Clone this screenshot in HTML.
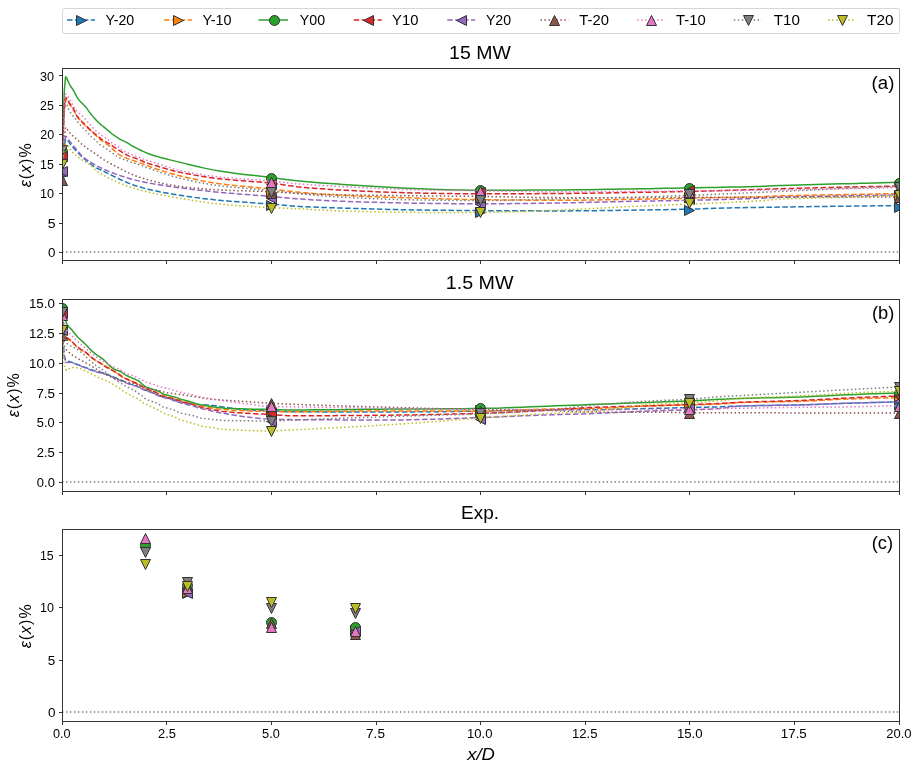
<!DOCTYPE html>
<html><head><meta charset="utf-8"><style>
html,body{margin:0;padding:0;background:#fff;width:919px;height:768px;overflow:hidden;}
svg{display:block;font-family:"Liberation Sans", sans-serif;will-change:transform;}
</style></head><body>
<svg width="919" height="768" viewBox="0 0 919 768" font-family='"Liberation Sans", sans-serif' fill="#000"><defs><clipPath id="clipa"><rect x="62.5" y="68.5" width="837.0" height="192.0"/></clipPath><clipPath id="clipb"><rect x="62.5" y="299.5" width="837.0" height="192.0"/></clipPath><clipPath id="clipc"><rect x="62.5" y="529.5" width="837.0" height="192.0"/></clipPath></defs><rect x="62.5" y="8.5" width="837" height="25" rx="2" ry="2" fill="#fff" stroke="#d6d6d6" stroke-width="1"/>
<line x1="67.0" y1="20.0" x2="95.0" y2="20.0" stroke="#1f77b4" stroke-width="1.5" stroke-linecap="butt" stroke-dasharray="5.55 2.4"/>
<polygon points="86.50,20.50 76.50,15.50 76.50,25.50" fill="#1f77b4" stroke="#333333" stroke-width="1" stroke-linejoin="miter"/>
<text x="105.47" y="25.10" font-size="14.2" text-anchor="start" textLength="28.73" lengthAdjust="spacingAndGlyphs">Y-20</text>
<line x1="163.9" y1="20.0" x2="191.9" y2="20.0" stroke="#ff7f0e" stroke-width="1.5" stroke-linecap="butt" stroke-dasharray="5.55 2.4"/>
<polygon points="183.50,20.50 173.50,15.50 173.50,25.50" fill="#ff7f0e" stroke="#333333" stroke-width="1" stroke-linejoin="miter"/>
<text x="202.46" y="25.10" font-size="14.2" text-anchor="start" textLength="29.09" lengthAdjust="spacingAndGlyphs">Y-10</text>
<line x1="259.2" y1="20.0" x2="287.2" y2="20.0" stroke="#2ca02c" stroke-width="1.5" stroke-linecap="square" />
<circle cx="274.50" cy="20.50" r="5.0" fill="#2ca02c" stroke="#333333" stroke-width="1"/>
<text x="299.81" y="25.10" font-size="14.2" text-anchor="start" textLength="25.25" lengthAdjust="spacingAndGlyphs">Y00</text>
<line x1="353.7" y1="20.0" x2="381.7" y2="20.0" stroke="#d62728" stroke-width="1.5" stroke-linecap="butt" stroke-dasharray="5.55 2.4"/>
<polygon points="363.50,20.50 373.50,15.50 373.50,25.50" fill="#d62728" stroke="#333333" stroke-width="1" stroke-linejoin="miter"/>
<text x="392.11" y="25.10" font-size="14.2" text-anchor="start" textLength="26.24" lengthAdjust="spacingAndGlyphs">Y10</text>
<line x1="447.2" y1="20.0" x2="475.2" y2="20.0" stroke="#9467bd" stroke-width="1.5" stroke-linecap="butt" stroke-dasharray="5.55 2.4"/>
<polygon points="456.50,20.50 466.50,15.50 466.50,25.50" fill="#9467bd" stroke="#333333" stroke-width="1" stroke-linejoin="miter"/>
<text x="485.89" y="25.10" font-size="14.2" text-anchor="start" textLength="25.19" lengthAdjust="spacingAndGlyphs">Y20</text>
<line x1="540.5" y1="20.0" x2="568.5" y2="20.0" stroke="#8c564b" stroke-width="1.5" stroke-linecap="butt" stroke-dasharray="1.5 2.475"/>
<polygon points="554.50,15.50 549.50,25.50 559.50,25.50" fill="#8c564b" stroke="#333333" stroke-width="1" stroke-linejoin="miter"/>
<text x="579.37" y="25.10" font-size="14.2" text-anchor="start" textLength="29.58" lengthAdjust="spacingAndGlyphs">T-20</text>
<line x1="637.2" y1="20.0" x2="665.2" y2="20.0" stroke="#e377c2" stroke-width="1.5" stroke-linecap="butt" stroke-dasharray="1.5 2.475"/>
<polygon points="651.50,15.50 646.50,25.50 656.50,25.50" fill="#e377c2" stroke="#333333" stroke-width="1" stroke-linejoin="miter"/>
<text x="676.10" y="25.10" font-size="14.2" text-anchor="start" textLength="29.64" lengthAdjust="spacingAndGlyphs">T-10</text>
<line x1="733.8" y1="20.0" x2="761.8" y2="20.0" stroke="#7f7f7f" stroke-width="1.5" stroke-linecap="butt" stroke-dasharray="1.5 2.475"/>
<polygon points="748.50,25.50 743.50,15.50 753.50,15.50" fill="#7f7f7f" stroke="#333333" stroke-width="1" stroke-linejoin="miter"/>
<text x="773.75" y="25.10" font-size="14.2" text-anchor="start" textLength="26.13" lengthAdjust="spacingAndGlyphs">T10</text>
<line x1="828.2" y1="20.0" x2="856.2" y2="20.0" stroke="#bcbd22" stroke-width="1.5" stroke-linecap="butt" stroke-dasharray="1.5 2.475"/>
<polygon points="842.50,25.50 837.50,15.50 847.50,15.50" fill="#bcbd22" stroke="#333333" stroke-width="1" stroke-linejoin="miter"/>
<text x="867.08" y="25.10" font-size="14.2" text-anchor="start" textLength="26.40" lengthAdjust="spacingAndGlyphs">T20</text>
<g clip-path="url(#clipa)">
<line x1="62.0" y1="252.1" x2="899.5" y2="252.1" stroke="#808080" stroke-width="1.5" stroke-dasharray="1.5 2.475"/>
<path d="M62.20,175.80 L64.29,146.18 L65.56,138.98 L66.39,139.23 L68.48,141.43 L70.57,144.48 L71.41,145.53 L72.66,146.95 L74.76,149.31 L76.60,151.31 L76.85,151.58 L78.94,153.76 L81.03,155.85 L83.12,157.81 L85.22,159.59 L87.31,161.26 L89.40,162.89 L89.61,163.06 L91.50,164.57 L93.59,166.18 L94.84,167.01 L95.68,167.49 L97.77,168.53 L99.45,169.31 L99.87,169.51 L101.96,170.52 L104.05,171.54 L106.14,172.58 L108.24,173.61 L110.33,174.65 L112.42,175.69 L114.51,176.72 L116.61,177.74 L118.70,178.75 L120.79,179.73 L122.88,180.69 L124.98,181.63 L127.07,182.53 L129.16,183.39 L131.25,184.21 L133.35,184.99 L135.44,185.72 L137.53,186.39 L139.62,187.01 L141.72,187.59 L143.81,188.14 L145.90,188.68 L147.99,189.19 L150.09,189.69 L152.18,190.17 L154.27,190.63 L156.36,191.08 L158.46,191.51 L160.55,191.93 L162.64,192.33 L164.73,192.73 L166.82,193.11 L168.92,193.48 L171.01,193.84 L173.10,194.19 L175.19,194.54 L177.29,194.87 L179.38,195.20 L179.80,195.27 L181.47,195.53 L183.57,195.85 L185.66,196.16 L187.75,196.47 L196.12,197.63 L204.49,198.68 L212.86,199.62 L219.56,200.28 L221.23,200.44 L229.60,201.15 L237.97,201.78 L246.34,202.36 L254.71,202.92 L263.08,203.49 L271.45,204.12 L271.45,204.12 L279.82,204.86 L288.19,205.64 L296.56,206.31 L299.49,206.48 L304.93,206.75 L313.30,207.10 L321.67,207.40 L330.04,207.66 L338.41,207.92 L339.67,207.95 L346.78,208.18 L355.15,208.44 L363.52,208.69 L371.89,208.94 L380.26,209.18 L388.63,209.40 L397.00,209.60 L405.37,209.78 L413.74,209.93 L419.60,210.02 L422.11,210.05 L430.48,210.16 L438.85,210.26 L447.22,210.35 L455.59,210.43 L463.96,210.50 L472.33,210.56 L480.70,210.61 L480.70,210.61 L489.07,210.66 L497.44,210.70 L505.81,210.74 L514.18,210.78 L522.55,210.82 L530.92,210.85 L539.29,210.88 L547.66,210.89 L556.03,210.90 L559.80,210.91 L564.40,210.90 L572.77,210.87 L581.14,210.81 L589.51,210.73 L597.88,210.63 L606.25,210.51 L614.62,210.39 L622.99,210.26 L631.36,210.14 L639.73,210.02 L639.73,210.02 L648.10,209.90 L656.47,209.77 L664.84,209.63 L673.21,209.48 L681.58,209.32 L689.95,209.13 L689.95,209.13 L698.32,208.91 L706.69,208.62 L715.06,208.33 L723.43,208.06 L729.71,207.90 L731.80,207.85 L740.17,207.68 L748.54,207.54 L756.91,207.40 L765.28,207.28 L773.65,207.16 L779.51,207.07 L782.02,207.03 L790.39,206.91 L798.76,206.79 L807.13,206.68 L815.50,206.56 L823.87,206.45 L832.24,206.34 L840.61,206.24 L848.98,206.14 L857.35,206.04 L859.86,206.01 L865.72,205.94 L874.09,205.85 L882.46,205.76 L890.83,205.68 L899.20,205.59" fill="none" stroke="#1f77b4" stroke-width="1.5" stroke-linejoin="round" stroke-linecap="butt" stroke-dasharray="5.55 2.4"/>
<polygon points="67.50,175.50 57.50,170.50 57.50,180.50" fill="#1f77b4" stroke="#333333" stroke-width="1" stroke-linejoin="miter"/>
<polygon points="276.50,205.50 266.50,200.50 266.50,210.50" fill="#1f77b4" stroke="#333333" stroke-width="1" stroke-linejoin="miter"/>
<polygon points="485.50,212.50 475.50,207.50 475.50,217.50" fill="#1f77b4" stroke="#333333" stroke-width="1" stroke-linejoin="miter"/>
<polygon points="694.50,210.50 684.50,205.50 684.50,215.50" fill="#1f77b4" stroke="#333333" stroke-width="1" stroke-linejoin="miter"/>
<polygon points="904.50,207.50 894.50,202.50 894.50,212.50" fill="#1f77b4" stroke="#333333" stroke-width="1" stroke-linejoin="miter"/>
<path d="M62.20,158.10 L64.29,110.13 L65.56,99.10 L66.39,99.52 L68.48,102.81 L69.48,104.41 L70.57,105.81 L72.66,108.54 L74.76,111.77 L76.85,115.27 L78.94,118.56 L79.99,119.99 L81.03,121.26 L83.12,123.56 L85.22,125.67 L87.02,127.42 L87.31,127.70 L89.40,129.65 L91.50,131.51 L93.59,133.36 L94.84,134.50 L95.68,135.29 L97.77,137.36 L99.87,139.34 L100.79,140.10 L101.96,140.97 L104.05,142.33 L106.14,143.66 L107.40,144.53 L108.24,145.17 L110.33,146.96 L112.42,148.90 L114.51,150.87 L116.61,152.71 L118.70,154.30 L119.99,155.09 L120.79,155.52 L122.88,156.55 L124.98,157.48 L127.07,158.33 L129.16,159.11 L131.25,159.85 L133.35,160.56 L135.44,161.26 L137.53,161.98 L139.62,162.74 L140.00,162.88 L141.72,163.53 L143.81,164.32 L145.90,165.12 L147.99,165.91 L150.09,166.70 L152.18,167.47 L154.27,168.22 L156.36,168.96 L158.46,169.66 L160.09,170.19 L160.55,170.34 L162.64,171.00 L164.73,171.65 L166.82,172.28 L168.92,172.90 L171.01,173.50 L173.10,174.08 L175.19,174.64 L177.29,175.18 L179.38,175.70 L179.80,175.80 L181.47,176.20 L183.57,176.70 L185.66,177.19 L187.75,177.67 L196.12,179.54 L204.49,181.25 L212.86,182.75 L219.56,183.76 L221.23,183.99 L229.60,185.01 L237.97,185.89 L246.34,186.68 L254.71,187.44 L263.08,188.22 L271.45,189.07 L271.45,189.08 L279.82,190.06 L288.19,191.09 L296.56,192.04 L299.49,192.32 L304.93,192.81 L313.30,193.51 L321.67,194.15 L330.04,194.72 L338.41,195.20 L339.67,195.27 L346.78,195.62 L355.15,196.00 L363.52,196.36 L371.89,196.68 L380.26,196.99 L388.63,197.27 L397.00,197.54 L405.37,197.80 L413.74,198.05 L419.60,198.22 L422.11,198.29 L430.48,198.54 L438.85,198.78 L447.22,199.01 L455.59,199.23 L463.96,199.42 L472.33,199.58 L480.70,199.69 L480.70,199.69 L489.07,199.79 L497.44,199.88 L505.81,199.97 L514.18,200.05 L522.55,200.12 L530.92,200.18 L539.29,200.23 L547.66,200.27 L556.03,200.28 L559.80,200.28 L564.40,200.28 L572.77,200.24 L581.14,200.17 L589.51,200.07 L597.88,199.95 L606.25,199.81 L614.62,199.66 L622.99,199.51 L631.36,199.36 L639.73,199.22 L639.73,199.22 L648.10,199.08 L656.47,198.92 L664.84,198.75 L673.21,198.57 L681.58,198.39 L689.95,198.22 L689.95,198.22 L698.32,198.06 L706.69,197.90 L715.06,197.75 L723.43,197.59 L731.80,197.43 L740.17,197.25 L748.54,197.05 L756.91,196.82 L759.42,196.75 L765.28,196.51 L773.65,196.09 L779.51,195.86 L782.02,195.79 L790.39,195.57 L798.76,195.39 L807.13,195.22 L815.50,195.07 L823.87,194.94 L832.24,194.80 L840.61,194.67 L848.98,194.53 L857.35,194.38 L859.86,194.33 L865.72,194.21 L874.09,194.03 L882.46,193.86 L890.83,193.68 L899.20,193.50" fill="none" stroke="#ff7f0e" stroke-width="1.5" stroke-linejoin="round" stroke-linecap="butt" stroke-dasharray="5.55 2.4"/>
<polygon points="67.50,158.50 57.50,153.50 57.50,163.50" fill="#ff7f0e" stroke="#333333" stroke-width="1" stroke-linejoin="miter"/>
<polygon points="276.50,192.50 266.50,187.50 266.50,197.50" fill="#ff7f0e" stroke="#333333" stroke-width="1" stroke-linejoin="miter"/>
<polygon points="485.50,199.50 475.50,194.50 475.50,204.50" fill="#ff7f0e" stroke="#333333" stroke-width="1" stroke-linejoin="miter"/>
<polygon points="694.50,197.50 684.50,192.50 684.50,202.50" fill="#ff7f0e" stroke="#333333" stroke-width="1" stroke-linejoin="miter"/>
<polygon points="904.50,195.50 894.50,190.50 894.50,200.50" fill="#ff7f0e" stroke="#333333" stroke-width="1" stroke-linejoin="miter"/>
<path d="M62.20,151.02 L64.29,90.70 L65.56,76.86 L66.39,77.47 L68.48,82.12 L69.48,84.29 L70.57,86.08 L72.66,89.28 L74.00,91.43 L74.76,92.79 L76.85,96.85 L77.94,98.63 L78.94,99.94 L81.03,102.24 L83.12,104.28 L85.22,106.47 L85.72,107.06 L87.31,109.17 L89.40,112.16 L90.95,114.20 L91.50,114.86 L93.59,117.30 L95.68,119.60 L97.77,121.73 L98.78,122.70 L99.87,123.69 L101.96,125.46 L104.05,127.14 L106.14,128.84 L106.56,129.19 L108.24,130.67 L110.33,132.54 L111.79,133.73 L112.42,134.21 L114.51,135.73 L116.61,137.14 L118.70,138.45 L119.62,138.98 L120.79,139.62 L122.88,140.65 L124.98,141.64 L127.07,142.69 L127.40,142.88 L129.16,143.94 L131.25,145.30 L132.63,146.12 L133.35,146.52 L135.44,147.64 L137.53,148.70 L139.62,149.72 L141.72,150.70 L143.05,151.31 L143.81,151.66 L145.90,152.59 L147.99,153.47 L150.09,154.29 L150.84,154.56 L152.18,155.01 L154.27,155.67 L156.36,156.28 L158.46,156.87 L159.71,157.22 L160.55,157.44 L162.64,158.01 L164.73,158.55 L166.82,159.09 L168.92,159.61 L171.01,160.13 L173.10,160.63 L175.19,161.14 L177.29,161.63 L179.38,162.13 L179.80,162.23 L181.47,162.63 L183.57,163.13 L185.66,163.64 L187.75,164.15 L196.12,166.18 L204.49,168.13 L212.86,169.88 L219.56,171.08 L221.23,171.35 L229.60,172.58 L237.97,173.66 L246.34,174.66 L254.71,175.61 L263.08,176.56 L271.45,177.57 L271.45,177.57 L279.82,178.68 L288.19,179.80 L296.56,180.81 L299.49,181.11 L304.93,181.61 L313.30,182.32 L321.67,182.95 L330.04,183.53 L338.41,184.09 L339.67,184.18 L346.78,184.66 L355.15,185.22 L363.52,185.78 L371.89,186.33 L380.26,186.85 L388.63,187.34 L397.00,187.80 L405.37,188.21 L413.74,188.57 L419.60,188.78 L422.11,188.86 L430.48,189.15 L438.85,189.43 L447.22,189.69 L455.59,189.92 L463.96,190.09 L472.33,190.21 L480.70,190.25 L480.70,190.25 L489.07,190.25 L497.44,190.24 L505.81,190.22 L514.18,190.19 L522.55,190.16 L530.92,190.12 L539.29,190.08 L547.66,190.03 L556.03,189.98 L559.80,189.96 L564.40,189.93 L572.77,189.85 L581.14,189.75 L589.51,189.63 L597.88,189.50 L606.25,189.36 L614.62,189.22 L622.99,189.07 L631.36,188.92 L639.73,188.78 L639.73,188.78 L648.10,188.64 L656.47,188.50 L664.84,188.36 L673.21,188.21 L681.58,188.05 L689.95,187.89 L689.95,187.89 L698.32,187.74 L706.69,187.59 L715.06,187.44 L723.43,187.28 L731.80,187.11 L740.17,186.93 L748.54,186.73 L756.91,186.50 L759.42,186.42 L765.28,186.19 L773.65,185.78 L779.51,185.53 L782.02,185.45 L790.39,185.17 L798.76,184.92 L807.13,184.69 L815.50,184.47 L823.87,184.26 L832.24,184.05 L840.61,183.85 L848.98,183.64 L857.35,183.42 L859.86,183.35 L865.72,183.19 L874.09,182.97 L882.46,182.74 L890.83,182.52 L899.20,182.29" fill="none" stroke="#2ca02c" stroke-width="1.5" stroke-linejoin="round" stroke-linecap="square" />
<circle cx="62.50" cy="151.50" r="5.0" fill="#2ca02c" stroke="#333333" stroke-width="1"/>
<circle cx="271.50" cy="178.50" r="5.0" fill="#2ca02c" stroke="#333333" stroke-width="1"/>
<circle cx="480.50" cy="190.50" r="5.0" fill="#2ca02c" stroke="#333333" stroke-width="1"/>
<circle cx="689.50" cy="188.50" r="5.0" fill="#2ca02c" stroke="#333333" stroke-width="1"/>
<circle cx="899.50" cy="183.50" r="5.0" fill="#2ca02c" stroke="#333333" stroke-width="1"/>
<path d="M62.20,156.33 L64.29,108.34 L65.56,97.33 L66.39,97.82 L68.48,101.52 L69.48,103.23 L70.57,104.55 L72.66,107.12 L74.76,111.53 L76.85,116.15 L77.27,116.80 L78.94,118.79 L81.03,120.79 L81.79,121.52 L83.12,122.84 L85.22,124.86 L87.02,126.59 L87.31,126.88 L89.40,129.00 L90.95,130.49 L91.50,130.97 L93.59,132.71 L94.84,133.73 L95.68,134.43 L97.77,136.17 L98.78,136.98 L99.87,137.86 L101.96,139.55 L104.01,140.99 L104.05,141.02 L106.14,142.09 L108.24,143.07 L109.07,143.53 L110.33,144.35 L112.42,145.94 L114.51,147.48 L116.61,148.82 L118.70,150.08 L120.79,151.31 L120.79,151.31 L122.88,152.60 L124.98,153.90 L127.07,155.10 L128.74,155.92 L129.16,156.10 L131.25,156.88 L133.35,157.56 L135.44,158.22 L137.53,158.94 L137.95,159.10 L139.62,159.81 L141.72,160.77 L143.81,161.73 L145.48,162.41 L145.90,162.56 L147.99,163.29 L150.09,163.96 L152.18,164.60 L154.27,165.22 L155.94,165.71 L156.36,165.84 L158.46,166.46 L160.55,167.09 L162.64,167.71 L164.73,168.33 L166.82,168.95 L168.92,169.54 L171.01,170.12 L173.10,170.68 L175.19,171.21 L177.29,171.71 L179.38,172.17 L179.80,172.26 L181.47,172.61 L183.57,173.03 L185.66,173.45 L187.75,173.85 L196.12,175.38 L204.49,176.74 L212.86,177.93 L219.56,178.75 L221.23,178.94 L229.60,179.76 L237.97,180.44 L246.34,181.06 L254.71,181.68 L263.08,182.36 L271.45,183.18 L271.45,183.18 L279.82,184.27 L288.19,185.54 L296.56,186.69 L299.49,187.01 L304.93,187.52 L313.30,188.23 L321.67,188.86 L330.04,189.41 L338.41,189.89 L339.67,189.96 L346.78,190.33 L355.15,190.76 L363.52,191.16 L371.89,191.55 L380.26,191.90 L388.63,192.23 L397.00,192.52 L405.37,192.77 L413.74,192.97 L419.60,193.09 L422.11,193.13 L430.48,193.27 L438.85,193.41 L447.22,193.54 L455.59,193.64 L463.96,193.72 L472.33,193.78 L480.70,193.80 L480.70,193.80 L489.07,193.79 L497.44,193.78 L505.81,193.76 L514.18,193.73 L522.55,193.70 L530.92,193.66 L539.29,193.62 L547.66,193.57 L556.03,193.52 L559.80,193.50 L564.40,193.47 L572.77,193.39 L581.14,193.29 L589.51,193.17 L597.88,193.04 L606.25,192.90 L614.62,192.76 L622.99,192.61 L631.36,192.46 L639.73,192.32 L639.73,192.32 L648.10,192.19 L656.47,192.05 L664.84,191.91 L673.21,191.77 L681.58,191.61 L689.95,191.44 L689.95,191.44 L698.32,191.23 L706.69,191.01 L715.06,190.76 L723.43,190.51 L731.80,190.25 L731.80,190.25 L740.17,190.00 L748.54,189.74 L756.91,189.47 L765.28,189.20 L773.65,188.95 L779.51,188.78 L782.02,188.71 L790.39,188.48 L798.76,188.25 L807.13,188.02 L815.50,187.80 L823.87,187.59 L832.24,187.38 L840.61,187.18 L848.98,187.00 L857.35,186.82 L859.86,186.77 L865.72,186.66 L874.09,186.51 L882.46,186.37 L890.83,186.24 L899.20,186.12" fill="none" stroke="#d62728" stroke-width="1.5" stroke-linejoin="round" stroke-linecap="butt" stroke-dasharray="5.55 2.4"/>
<polygon points="57.50,156.50 67.50,151.50 67.50,161.50" fill="#d62728" stroke="#333333" stroke-width="1" stroke-linejoin="miter"/>
<polygon points="266.50,184.50 276.50,179.50 276.50,189.50" fill="#d62728" stroke="#333333" stroke-width="1" stroke-linejoin="miter"/>
<polygon points="475.50,192.50 485.50,187.50 485.50,197.50" fill="#d62728" stroke="#333333" stroke-width="1" stroke-linejoin="miter"/>
<polygon points="684.50,190.50 694.50,185.50 694.50,195.50" fill="#d62728" stroke="#333333" stroke-width="1" stroke-linejoin="miter"/>
<polygon points="894.50,186.50 904.50,181.50 904.50,191.50" fill="#d62728" stroke="#333333" stroke-width="1" stroke-linejoin="miter"/>
<path d="M62.20,171.67 L64.29,142.93 L65.56,136.39 L66.39,136.75 L68.48,139.57 L69.48,140.99 L70.57,142.31 L72.66,144.90 L74.76,147.51 L76.85,150.07 L77.89,151.31 L78.94,152.57 L81.03,155.03 L82.50,156.51 L83.12,157.04 L85.22,158.60 L87.02,159.81 L87.31,160.01 L89.40,161.33 L91.50,162.59 L92.25,163.06 L93.59,163.92 L95.68,165.29 L97.48,166.30 L97.77,166.44 L99.87,167.44 L101.96,168.40 L104.05,169.34 L106.14,170.25 L108.24,171.13 L110.33,171.98 L112.42,172.81 L114.51,173.60 L116.61,174.37 L118.70,175.12 L120.79,175.84 L122.88,176.53 L124.98,177.19 L127.07,177.83 L129.16,178.44 L131.25,179.03 L133.35,179.58 L135.44,180.12 L137.53,180.63 L139.62,181.11 L141.72,181.57 L143.81,182.01 L145.90,182.44 L147.99,182.85 L150.09,183.24 L152.18,183.63 L154.27,183.99 L156.36,184.35 L158.46,184.69 L160.55,185.03 L162.64,185.35 L164.73,185.67 L166.82,185.97 L168.92,186.28 L171.01,186.57 L173.10,186.86 L175.19,187.15 L177.29,187.44 L179.38,187.72 L179.80,187.78 L181.47,188.00 L183.57,188.28 L185.66,188.55 L187.75,188.82 L196.12,189.84 L204.49,190.79 L212.86,191.67 L219.56,192.32 L221.23,192.48 L229.60,193.21 L237.97,193.88 L246.34,194.51 L254.71,195.13 L263.08,195.77 L271.45,196.45 L271.45,196.45 L279.82,197.22 L288.19,198.04 L296.56,198.77 L299.49,198.99 L304.93,199.35 L313.30,199.88 L321.67,200.36 L330.04,200.77 L338.41,201.12 L339.67,201.17 L346.78,201.42 L355.15,201.71 L363.52,201.97 L371.89,202.22 L380.26,202.45 L388.63,202.65 L397.00,202.84 L405.37,203.01 L413.74,203.15 L419.60,203.24 L422.11,203.27 L430.48,203.39 L438.85,203.50 L447.22,203.60 L455.59,203.69 L463.96,203.76 L472.33,203.81 L480.70,203.82 L480.70,203.82 L489.07,203.81 L497.44,203.76 L505.81,203.69 L514.18,203.60 L522.55,203.50 L530.92,203.38 L539.29,203.25 L547.66,203.13 L556.03,203.00 L559.80,202.94 L564.40,202.87 L572.77,202.71 L581.14,202.54 L589.51,202.35 L597.88,202.15 L606.25,201.94 L614.62,201.73 L622.99,201.53 L631.36,201.34 L639.73,201.17 L639.73,201.17 L648.10,201.02 L656.47,200.88 L664.84,200.74 L673.21,200.60 L681.58,200.45 L689.95,200.28 L689.95,200.28 L698.32,200.10 L706.69,199.90 L715.06,199.69 L723.43,199.46 L731.80,199.22 L740.17,198.96 L748.54,198.68 L756.91,198.37 L759.42,198.28 L765.28,198.00 L773.65,197.53 L779.51,197.28 L782.02,197.20 L790.39,196.96 L798.76,196.75 L807.13,196.56 L815.50,196.39 L823.87,196.24 L832.24,196.09 L840.61,195.95 L848.98,195.81 L857.35,195.67 L859.86,195.62 L865.72,195.52 L874.09,195.38 L882.46,195.24 L890.83,195.10 L899.20,194.97" fill="none" stroke="#9467bd" stroke-width="1.5" stroke-linejoin="round" stroke-linecap="butt" stroke-dasharray="5.55 2.4"/>
<polygon points="57.50,171.50 67.50,166.50 67.50,176.50" fill="#9467bd" stroke="#333333" stroke-width="1" stroke-linejoin="miter"/>
<polygon points="266.50,198.50 276.50,193.50 276.50,203.50" fill="#9467bd" stroke="#333333" stroke-width="1" stroke-linejoin="miter"/>
<polygon points="475.50,204.50 485.50,199.50 485.50,209.50" fill="#9467bd" stroke="#333333" stroke-width="1" stroke-linejoin="miter"/>
<polygon points="684.50,199.50 694.50,194.50 694.50,204.50" fill="#9467bd" stroke="#333333" stroke-width="1" stroke-linejoin="miter"/>
<polygon points="894.50,195.50 904.50,190.50 904.50,200.50" fill="#9467bd" stroke="#333333" stroke-width="1" stroke-linejoin="miter"/>
<path d="M62.20,180.52 L64.29,137.09 L65.56,127.42 L66.39,127.94 L68.48,131.34 L68.81,131.79 L70.57,133.69 L72.66,135.72 L73.37,136.39 L74.76,137.60 L76.85,139.35 L77.89,140.28 L78.94,141.32 L81.03,143.48 L81.79,144.18 L83.12,145.26 L85.22,146.79 L87.02,148.07 L87.31,148.28 L89.40,149.77 L91.50,151.23 L91.62,151.31 L93.59,152.62 L95.68,153.99 L97.48,155.21 L97.77,155.42 L99.87,157.01 L101.96,158.59 L102.71,159.10 L104.05,159.93 L106.14,161.10 L108.24,162.24 L108.53,162.41 L110.33,163.44 L112.42,164.64 L114.39,165.71 L114.51,165.78 L116.61,166.86 L118.70,167.95 L120.79,169.03 L122.88,170.10 L124.98,171.15 L127.07,172.17 L129.16,173.15 L131.25,174.09 L133.35,174.98 L135.44,175.82 L137.53,176.58 L139.62,177.27 L141.72,177.92 L143.81,178.55 L145.90,179.16 L147.99,179.76 L150.09,180.34 L152.18,180.90 L154.27,181.45 L156.36,181.97 L158.46,182.48 L160.55,182.96 L162.64,183.43 L164.73,183.88 L166.82,184.30 L168.92,184.70 L171.01,185.08 L173.10,185.44 L175.19,185.77 L177.29,186.08 L179.38,186.37 L179.80,186.42 L181.47,186.63 L183.57,186.89 L185.66,187.14 L187.75,187.38 L196.12,188.25 L204.49,188.98 L212.86,189.58 L219.56,189.96 L221.23,190.04 L229.60,190.39 L237.97,190.66 L246.34,190.90 L254.71,191.13 L263.08,191.39 L271.45,191.73 L271.45,191.73 L279.82,192.23 L288.19,192.83 L296.56,193.36 L299.49,193.50 L304.93,193.71 L313.30,194.00 L321.67,194.25 L330.04,194.47 L338.41,194.65 L339.67,194.68 L346.78,194.82 L355.15,194.97 L363.52,195.11 L371.89,195.25 L380.26,195.37 L388.63,195.48 L397.00,195.59 L405.37,195.69 L413.74,195.79 L419.60,195.86 L422.11,195.89 L430.48,195.98 L438.85,196.06 L447.22,196.13 L455.59,196.20 L463.96,196.28 L472.33,196.36 L480.70,196.45 L480.70,196.45 L489.07,196.56 L497.44,196.71 L505.81,196.87 L514.18,197.03 L522.55,197.20 L530.92,197.35 L539.29,197.48 L547.66,197.57 L556.03,197.62 L559.80,197.63 L564.40,197.63 L572.77,197.63 L581.14,197.63 L589.51,197.63 L597.88,197.63 L606.25,197.63 L614.62,197.63 L622.99,197.63 L631.36,197.63 L639.73,197.63 L639.73,197.63 L648.10,197.61 L656.47,197.56 L664.84,197.50 L673.21,197.43 L681.58,197.37 L689.95,197.34 L689.95,197.34 L698.32,197.31 L706.69,197.30 L715.06,197.28 L723.43,197.27 L731.80,197.26 L740.17,197.25 L748.54,197.24 L756.91,197.22 L759.42,197.22 L765.28,197.20 L773.65,197.18 L782.02,197.15 L790.39,197.12 L798.76,197.09 L807.13,197.05 L815.50,197.02 L823.87,196.99 L832.24,196.96 L840.61,196.94 L848.98,196.93 L857.35,196.92 L859.86,196.92 L865.72,196.92 L874.09,196.92 L882.46,196.92 L890.83,196.92 L899.20,196.92" fill="none" stroke="#8c564b" stroke-width="1.5" stroke-linejoin="round" stroke-linecap="butt" stroke-dasharray="1.5 2.475"/>
<polygon points="62.50,175.50 57.50,185.50 67.50,185.50" fill="#8c564b" stroke="#333333" stroke-width="1" stroke-linejoin="miter"/>
<polygon points="271.50,188.50 266.50,198.50 276.50,198.50" fill="#8c564b" stroke="#333333" stroke-width="1" stroke-linejoin="miter"/>
<polygon points="480.50,192.50 475.50,202.50 485.50,202.50" fill="#8c564b" stroke="#333333" stroke-width="1" stroke-linejoin="miter"/>
<polygon points="689.50,192.50 684.50,202.50 694.50,202.50" fill="#8c564b" stroke="#333333" stroke-width="1" stroke-linejoin="miter"/>
<polygon points="899.50,192.50 894.50,202.50 904.50,202.50" fill="#8c564b" stroke="#333333" stroke-width="1" stroke-linejoin="miter"/>
<path d="M62.20,169.90 L64.29,108.94 L65.56,94.03 L66.39,94.34 L68.48,97.23 L70.57,101.24 L71.41,102.64 L72.66,104.62 L74.76,108.06 L76.85,111.02 L77.27,111.49 L78.94,112.98 L81.03,114.60 L81.58,115.09 L83.12,116.68 L85.22,119.10 L87.31,121.62 L89.40,124.00 L91.50,126.22 L93.59,128.40 L95.68,130.47 L97.69,132.32 L97.77,132.39 L99.87,134.11 L100.79,134.80 L101.96,135.59 L104.05,136.93 L104.30,137.10 L106.14,138.36 L107.40,139.28 L108.24,139.95 L110.33,141.69 L110.49,141.82 L112.42,143.19 L113.68,144.00 L114.51,144.46 L116.61,145.51 L117.19,145.89 L118.70,147.37 L119.99,148.60 L120.79,149.13 L122.88,150.41 L124.98,151.56 L127.07,152.59 L129.16,153.52 L131.25,154.39 L133.35,155.20 L135.44,155.98 L137.53,156.75 L139.62,157.54 L140.00,157.69 L141.72,158.34 L143.81,159.11 L145.90,159.85 L147.99,160.56 L150.09,161.26 L152.18,161.94 L154.27,162.62 L156.36,163.28 L158.46,163.95 L160.09,164.47 L160.55,164.62 L162.64,165.31 L164.73,166.00 L166.82,166.70 L168.92,167.40 L171.01,168.07 L173.10,168.72 L175.19,169.33 L177.29,169.89 L179.38,170.40 L179.80,170.49 L181.47,170.85 L183.57,171.30 L185.66,171.73 L187.75,172.15 L196.12,173.69 L204.49,175.04 L212.86,176.19 L219.56,176.98 L221.23,177.16 L229.60,177.95 L237.97,178.62 L246.34,179.21 L254.71,179.79 L263.08,180.40 L271.45,181.11 L271.45,181.11 L279.82,181.99 L288.19,182.95 L296.56,183.82 L299.49,184.06 L304.93,184.46 L313.30,185.00 L321.67,185.48 L330.04,185.93 L338.41,186.36 L339.67,186.42 L346.78,186.79 L355.15,187.23 L363.52,187.67 L371.89,188.11 L380.26,188.52 L388.63,188.91 L397.00,189.26 L405.37,189.56 L413.74,189.82 L419.60,189.96 L422.11,190.01 L430.48,190.17 L438.85,190.31 L447.22,190.43 L455.59,190.54 L463.96,190.64 L472.33,190.74 L480.70,190.84 L480.70,190.84 L489.07,190.96 L497.44,191.08 L505.81,191.20 L514.18,191.33 L522.55,191.44 L530.92,191.55 L539.29,191.63 L547.66,191.69 L556.03,191.73 L559.80,191.73 L564.40,191.73 L572.77,191.71 L581.14,191.68 L589.51,191.65 L597.88,191.60 L606.25,191.55 L614.62,191.49 L622.99,191.43 L631.36,191.37 L639.73,191.32 L639.73,191.32 L648.10,191.26 L656.47,191.20 L664.84,191.14 L673.21,191.07 L681.58,191.00 L689.95,190.93 L698.32,190.85 L706.69,190.78 L715.06,190.69 L723.43,190.61 L729.71,190.55 L731.80,190.53 L740.17,190.44 L748.54,190.35 L756.91,190.25 L765.28,190.15 L773.65,190.04 L779.51,189.96 L782.02,189.92 L790.39,189.79 L798.76,189.65 L807.13,189.50 L815.50,189.33 L823.87,189.17 L832.24,188.99 L840.61,188.82 L848.98,188.65 L857.35,188.48 L859.86,188.43 L865.72,188.31 L874.09,188.13 L882.46,187.96 L890.83,187.78 L899.20,187.60" fill="none" stroke="#e377c2" stroke-width="1.5" stroke-linejoin="round" stroke-linecap="butt" stroke-dasharray="1.5 2.475"/>
<polygon points="271.50,177.50 266.50,187.50 276.50,187.50" fill="#e377c2" stroke="#333333" stroke-width="1" stroke-linejoin="miter"/>
<polygon points="480.50,186.50 475.50,196.50 485.50,196.50" fill="#e377c2" stroke="#333333" stroke-width="1" stroke-linejoin="miter"/>
<polygon points="689.50,187.50 684.50,197.50 694.50,197.50" fill="#e377c2" stroke="#333333" stroke-width="1" stroke-linejoin="miter"/>
<polygon points="899.50,183.50 894.50,193.50 904.50,193.50" fill="#e377c2" stroke="#333333" stroke-width="1" stroke-linejoin="miter"/>
<path d="M62.20,150.43 L64.29,110.69 L65.56,102.05 L66.39,103.00 L68.48,109.01 L68.81,109.72 L70.57,112.60 L72.66,115.46 L74.76,118.10 L75.30,118.81 L76.85,120.81 L78.94,123.41 L81.03,125.83 L83.12,127.95 L85.22,129.95 L86.81,131.55 L87.31,132.10 L89.40,134.65 L91.50,137.04 L92.00,137.51 L93.59,138.69 L94.80,139.57 L95.68,140.36 L97.77,142.50 L99.87,144.57 L100.79,145.30 L101.96,146.02 L104.05,147.15 L104.30,147.30 L106.14,148.49 L108.24,149.98 L110.33,151.54 L112.42,153.12 L114.51,154.65 L116.61,156.07 L118.70,157.32 L119.99,157.98 L120.79,158.35 L122.88,159.24 L124.98,160.06 L127.07,160.80 L129.16,161.50 L131.25,162.17 L133.35,162.82 L135.44,163.48 L137.53,164.16 L139.62,164.87 L140.00,165.00 L141.72,165.62 L143.81,166.40 L145.90,167.18 L147.99,167.97 L150.09,168.75 L152.18,169.53 L154.27,170.30 L156.36,171.05 L158.46,171.78 L160.09,172.32 L160.55,172.47 L162.64,173.15 L164.73,173.83 L166.82,174.49 L168.92,175.14 L171.01,175.78 L173.10,176.39 L175.19,176.97 L177.29,177.53 L179.38,178.06 L179.80,178.16 L181.47,178.56 L183.57,179.05 L185.66,179.54 L187.75,180.02 L196.12,181.84 L204.49,183.48 L212.86,184.89 L219.56,185.83 L221.23,186.04 L229.60,186.95 L237.97,187.72 L246.34,188.41 L254.71,189.07 L263.08,189.76 L271.45,190.55 L271.45,190.55 L279.82,191.48 L288.19,192.49 L296.56,193.44 L299.49,193.74 L304.93,194.26 L313.30,195.05 L321.67,195.78 L330.04,196.43 L338.41,196.97 L339.67,197.04 L346.78,197.41 L355.15,197.83 L363.52,198.22 L371.89,198.59 L380.26,198.92 L388.63,199.22 L397.00,199.49 L405.37,199.71 L413.74,199.89 L419.60,199.99 L422.11,200.03 L430.48,200.15 L438.85,200.26 L447.22,200.37 L455.59,200.45 L463.96,200.52 L472.33,200.56 L480.70,200.58 L480.70,200.58 L489.07,200.54 L497.44,200.44 L505.81,200.28 L514.18,200.08 L522.55,199.85 L530.92,199.60 L539.29,199.36 L547.66,199.12 L556.03,198.90 L559.80,198.81 L564.40,198.71 L572.77,198.53 L581.14,198.36 L589.51,198.19 L597.88,198.02 L606.25,197.84 L614.62,197.66 L622.99,197.47 L631.36,197.26 L639.73,197.04 L639.73,197.04 L648.10,196.79 L656.47,196.52 L664.84,196.22 L673.21,195.91 L681.58,195.59 L689.95,195.27 L689.95,195.27 L698.32,194.95 L706.69,194.62 L715.06,194.28 L723.43,193.93 L731.80,193.58 L740.17,193.22 L748.54,192.86 L756.91,192.49 L759.42,192.38 L765.28,192.11 L773.65,191.71 L779.51,191.44 L782.02,191.32 L790.39,190.93 L798.76,190.54 L807.13,190.15 L815.50,189.76 L823.87,189.38 L832.24,189.00 L840.61,188.63 L848.98,188.28 L857.35,187.94 L859.86,187.84 L865.72,187.61 L874.09,187.29 L882.46,186.99 L890.83,186.70 L899.20,186.42" fill="none" stroke="#7f7f7f" stroke-width="1.5" stroke-linejoin="round" stroke-linecap="butt" stroke-dasharray="1.5 2.475"/>
<polygon points="62.50,155.50 57.50,145.50 67.50,145.50" fill="#7f7f7f" stroke="#333333" stroke-width="1" stroke-linejoin="miter"/>
<polygon points="271.50,197.50 266.50,187.50 276.50,187.50" fill="#7f7f7f" stroke="#333333" stroke-width="1" stroke-linejoin="miter"/>
<polygon points="480.50,205.50 475.50,195.50 485.50,195.50" fill="#7f7f7f" stroke="#333333" stroke-width="1" stroke-linejoin="miter"/>
<polygon points="689.50,199.50 684.50,189.50 694.50,189.50" fill="#7f7f7f" stroke="#333333" stroke-width="1" stroke-linejoin="miter"/>
<polygon points="899.50,192.50 894.50,182.50 904.50,182.50" fill="#7f7f7f" stroke="#333333" stroke-width="1" stroke-linejoin="miter"/>
<path d="M62.20,164.59 L64.29,148.01 L65.56,143.94 L66.39,144.18 L68.48,146.45 L70.57,149.80 L72.66,152.61 L74.76,154.47 L76.85,156.09 L78.94,157.62 L79.19,157.81 L81.03,159.10 L83.12,160.50 L85.22,161.86 L87.02,163.06 L87.31,163.25 L89.40,164.63 L90.95,165.71 L91.50,166.13 L93.59,167.93 L95.68,169.86 L97.77,171.67 L99.45,172.85 L99.87,173.10 L101.96,174.34 L104.05,175.54 L106.14,176.69 L108.24,177.80 L110.33,178.86 L112.42,179.88 L114.51,180.87 L116.61,181.81 L118.70,182.72 L120.79,183.59 L122.88,184.42 L124.98,185.22 L127.07,185.99 L129.16,186.72 L131.25,187.43 L133.35,188.10 L135.44,188.75 L137.53,189.37 L139.62,189.96 L141.72,190.53 L143.81,191.07 L145.90,191.60 L147.99,192.10 L150.09,192.59 L152.18,193.06 L154.27,193.51 L156.36,193.95 L158.46,194.37 L160.55,194.78 L162.64,195.18 L164.73,195.57 L166.82,195.95 L168.92,196.33 L171.01,196.70 L173.10,197.06 L175.19,197.43 L177.29,197.79 L179.38,198.15 L179.80,198.22 L181.47,198.51 L183.57,198.87 L185.66,199.23 L187.75,199.59 L196.12,200.99 L204.49,202.28 L212.86,203.40 L219.56,204.12 L221.23,204.28 L229.60,205.01 L237.97,205.65 L246.34,206.23 L254.71,206.75 L263.08,207.22 L271.45,207.66 L271.45,207.66 L279.82,208.04 L288.19,208.37 L296.56,208.71 L299.49,208.84 L304.93,209.11 L313.30,209.59 L321.67,210.08 L330.04,210.53 L338.41,210.87 L339.67,210.91 L346.78,211.11 L355.15,211.34 L363.52,211.56 L371.89,211.76 L380.26,211.94 L388.63,212.10 L397.00,212.22 L405.37,212.32 L413.74,212.37 L419.60,212.38 L422.11,212.38 L430.48,212.38 L438.85,212.38 L447.22,212.38 L455.59,212.38 L463.96,212.38 L472.33,212.38 L480.70,212.38 L480.70,212.38 L489.07,212.34 L497.44,212.21 L505.81,212.02 L514.18,211.77 L522.55,211.48 L530.92,211.16 L539.29,210.83 L547.66,210.49 L556.03,210.16 L559.80,210.02 L564.40,209.84 L572.77,209.49 L581.14,209.09 L589.51,208.67 L597.88,208.24 L606.25,207.79 L614.62,207.35 L622.99,206.92 L631.36,206.51 L639.73,206.13 L639.73,206.13 L648.10,205.77 L656.47,205.44 L664.84,205.11 L673.21,204.79 L681.58,204.46 L689.95,204.12 L689.95,204.12 L698.32,203.76 L706.69,203.40 L715.06,203.02 L723.43,202.64 L729.71,202.35 L731.80,202.25 L740.17,201.87 L748.54,201.48 L756.91,201.03 L759.42,200.88 L765.28,200.41 L773.65,199.62 L779.51,199.22 L782.02,199.11 L790.39,198.77 L798.76,198.49 L807.13,198.25 L815.50,198.05 L823.87,197.86 L832.24,197.67 L840.61,197.48 L848.98,197.26 L857.35,197.01 L859.86,196.92 L865.72,196.71 L874.09,196.38 L882.46,196.03 L890.83,195.65 L899.20,195.27" fill="none" stroke="#bcbd22" stroke-width="1.5" stroke-linejoin="round" stroke-linecap="butt" stroke-dasharray="1.5 2.475"/>
<polygon points="62.50,169.50 57.50,159.50 67.50,159.50" fill="#bcbd22" stroke="#333333" stroke-width="1" stroke-linejoin="miter"/>
<polygon points="271.50,213.50 266.50,203.50 276.50,203.50" fill="#bcbd22" stroke="#333333" stroke-width="1" stroke-linejoin="miter"/>
<polygon points="480.50,217.50 475.50,207.50 485.50,207.50" fill="#bcbd22" stroke="#333333" stroke-width="1" stroke-linejoin="miter"/>
<polygon points="689.50,208.50 684.50,198.50 694.50,198.50" fill="#bcbd22" stroke="#333333" stroke-width="1" stroke-linejoin="miter"/>
<polygon points="899.50,200.50 894.50,190.50 904.50,190.50" fill="#bcbd22" stroke="#333333" stroke-width="1" stroke-linejoin="miter"/>
</g>
<g clip-path="url(#clipb)">
<line x1="62.0" y1="482.1" x2="899.5" y2="482.1" stroke="#808080" stroke-width="1.5" stroke-dasharray="1.5 2.475"/>
<path d="M62.20,339.30 L64.29,355.82 L65.55,360.19 L66.39,360.66 L68.48,361.30 L70.11,361.74 L70.57,361.90 L72.66,362.67 L74.76,363.45 L76.85,364.24 L78.44,364.84 L78.94,365.03 L81.03,365.81 L83.12,366.59 L85.22,367.37 L86.77,367.94 L87.31,368.15 L89.40,368.97 L91.50,369.80 L93.59,370.56 L95.09,371.05 L95.68,371.21 L97.77,371.73 L99.87,372.18 L101.96,372.66 L103.46,373.07 L104.05,373.26 L106.14,373.99 L108.24,374.83 L110.33,375.70 L111.79,376.30 L112.42,376.55 L114.51,377.40 L116.61,378.27 L118.70,379.15 L120.79,380.04 L121.79,380.47 L122.88,380.95 L124.98,381.92 L127.07,382.87 L129.12,383.69 L129.16,383.71 L131.25,384.38 L133.35,384.97 L135.44,385.58 L136.90,386.08 L137.53,386.33 L139.62,387.34 L141.72,388.45 L143.81,389.48 L144.23,389.66 L145.90,390.31 L147.99,391.04 L150.09,391.75 L151.88,392.41 L152.18,392.52 L154.27,393.41 L156.36,394.38 L158.46,395.32 L160.55,396.16 L161.80,396.58 L162.64,396.82 L164.73,397.31 L166.82,397.75 L168.92,398.26 L169.34,398.37 L171.01,398.93 L173.10,399.76 L175.19,400.57 L176.87,401.12 L177.29,401.23 L179.38,401.74 L181.47,402.20 L183.57,402.62 L184.40,402.79 L185.66,403.05 L187.75,403.52 L192.77,404.34 L196.12,404.54 L204.49,404.87 L205.75,404.94 L212.44,405.41 L212.86,405.45 L221.23,406.69 L225.42,407.32 L229.60,407.87 L237.97,408.92 L246.34,409.71 L246.34,409.71 L254.71,410.18 L263.08,410.55 L271.45,410.90 L271.45,410.90 L279.82,411.37 L288.19,411.72 L289.86,411.74 L296.56,411.77 L304.93,411.81 L313.30,411.85 L321.67,411.88 L330.04,411.90 L338.41,411.92 L346.78,411.94 L355.15,411.95 L363.52,411.96 L371.89,411.97 L380.26,411.97 L388.63,411.98 L389.89,411.98 L397.00,411.97 L405.37,411.94 L413.74,411.90 L422.11,411.83 L430.48,411.76 L438.85,411.67 L447.22,411.58 L455.59,411.47 L463.96,411.36 L472.33,411.25 L480.70,411.14 L480.70,411.14 L489.07,410.99 L497.44,410.79 L505.81,410.56 L514.18,410.31 L522.55,410.08 L530.92,409.89 L539.29,409.75 L544.73,409.71 L547.66,409.70 L556.03,409.67 L564.40,409.65 L572.77,409.64 L581.14,409.62 L589.51,409.59 L589.51,409.59 L597.88,409.53 L606.25,409.42 L614.62,409.28 L622.99,409.12 L631.36,408.93 L639.73,408.74 L648.10,408.54 L656.47,408.35 L659.82,408.28 L664.84,408.17 L673.21,407.97 L681.58,407.76 L689.95,407.56 L689.95,407.56 L698.32,407.37 L706.69,407.19 L715.06,406.98 L719.66,406.84 L723.43,406.71 L731.80,406.32 L739.75,406.01 L740.17,406.00 L748.54,405.80 L756.91,405.65 L765.28,405.52 L773.65,405.40 L782.02,405.27 L790.39,405.13 L798.76,404.96 L799.60,404.94 L807.13,404.72 L815.50,404.43 L823.87,404.10 L832.24,403.77 L840.61,403.45 L848.98,403.17 L849.82,403.15 L857.35,402.93 L865.72,402.71 L874.09,402.50 L882.46,402.30 L890.83,402.12 L899.20,401.95" fill="none" stroke="#1f77b4" stroke-width="1.5" stroke-linejoin="round" stroke-linecap="butt" stroke-dasharray="5.55 2.4"/>
<polygon points="67.50,339.50 57.50,334.50 57.50,344.50" fill="#1f77b4" stroke="#333333" stroke-width="1" stroke-linejoin="miter"/>
<polygon points="276.50,410.50 266.50,405.50 266.50,415.50" fill="#1f77b4" stroke="#333333" stroke-width="1" stroke-linejoin="miter"/>
<polygon points="485.50,411.50 475.50,406.50 475.50,416.50" fill="#1f77b4" stroke="#333333" stroke-width="1" stroke-linejoin="miter"/>
<polygon points="694.50,407.50 684.50,402.50 684.50,412.50" fill="#1f77b4" stroke="#333333" stroke-width="1" stroke-linejoin="miter"/>
<polygon points="904.50,404.50 894.50,399.50 894.50,409.50" fill="#1f77b4" stroke="#333333" stroke-width="1" stroke-linejoin="miter"/>
<path d="M62.20,315.44 L64.29,334.03 L64.92,336.32 L66.39,338.08 L68.48,339.42 L70.11,340.50 L70.57,340.90 L72.66,342.82 L74.76,344.76 L75.34,345.27 L76.85,346.56 L78.94,348.29 L80.53,349.45 L81.03,349.77 L83.12,350.92 L85.22,352.09 L85.72,352.43 L87.31,353.77 L89.40,355.82 L90.95,357.20 L91.50,357.62 L93.59,359.11 L95.68,360.47 L96.18,360.78 L97.77,361.74 L99.87,362.92 L101.37,363.77 L101.96,364.10 L104.05,365.27 L106.14,366.43 L108.24,367.61 L110.33,368.83 L111.79,369.73 L112.42,370.14 L114.51,371.62 L116.61,373.21 L118.70,374.80 L120.79,376.25 L122.72,377.37 L122.88,377.46 L124.98,378.41 L127.07,379.23 L129.16,380.04 L130.50,380.59 L131.25,380.92 L133.35,381.81 L135.44,382.75 L137.32,383.69 L137.53,383.81 L139.62,385.19 L141.72,386.69 L143.72,387.87 L143.81,387.91 L145.90,388.76 L147.99,389.46 L150.09,390.16 L151.01,390.50 L152.18,390.97 L154.27,391.90 L156.36,392.86 L158.46,393.80 L160.55,394.62 L161.38,394.91 L162.64,395.30 L164.73,395.86 L166.82,396.38 L168.50,396.82 L168.92,396.94 L171.01,397.53 L173.10,398.14 L175.19,398.73 L176.03,398.97 L177.29,399.31 L179.38,399.88 L181.47,400.44 L183.57,401.01 L184.82,401.36 L185.66,401.59 L187.75,402.22 L196.12,404.78 L199.05,405.53 L204.49,406.73 L212.86,408.26 L214.53,408.52 L221.23,409.35 L222.49,409.47 L229.60,410.02 L237.97,410.54 L246.34,410.90 L246.34,410.90 L254.71,411.15 L263.08,411.35 L271.45,411.50 L271.45,411.50 L279.82,411.64 L288.19,411.73 L289.86,411.74 L296.56,411.73 L304.93,411.69 L313.30,411.62 L321.67,411.54 L330.04,411.44 L338.41,411.34 L346.78,411.23 L355.15,411.13 L363.52,411.05 L371.89,410.97 L380.26,410.92 L388.63,410.90 L389.89,410.90 L397.00,410.91 L405.37,410.92 L413.74,410.94 L422.11,410.97 L430.48,411.00 L438.85,411.04 L447.22,411.07 L455.59,411.10 L463.96,411.12 L472.33,411.13 L480.70,411.14 L480.70,411.14 L489.07,411.06 L497.44,410.86 L505.81,410.56 L514.18,410.21 L522.55,409.85 L530.92,409.51 L539.29,409.24 L544.73,409.11 L547.66,409.06 L556.03,408.94 L564.40,408.85 L572.77,408.76 L581.14,408.65 L589.51,408.52 L589.51,408.52 L597.88,408.30 L606.25,408.00 L614.62,407.63 L622.99,407.22 L631.36,406.79 L639.73,406.37 L648.10,405.98 L656.47,405.65 L659.82,405.53 L664.84,405.38 L673.21,405.17 L681.58,404.99 L689.95,404.82 L698.32,404.64 L706.69,404.43 L715.06,404.16 L719.66,403.98 L723.43,403.77 L731.80,403.07 L739.75,402.55 L740.17,402.53 L748.54,402.29 L756.91,402.11 L765.28,401.97 L773.65,401.85 L782.02,401.73 L790.39,401.58 L798.76,401.38 L799.60,401.36 L807.13,401.09 L815.50,400.69 L823.87,400.23 L832.24,399.77 L840.61,399.34 L848.98,399.00 L849.82,398.97 L857.35,398.73 L865.72,398.49 L874.09,398.26 L882.46,398.07 L890.83,397.90 L899.20,397.78" fill="none" stroke="#ff7f0e" stroke-width="1.5" stroke-linejoin="round" stroke-linecap="butt" stroke-dasharray="5.55 2.4"/>
<polygon points="67.50,315.50 57.50,310.50 57.50,320.50" fill="#ff7f0e" stroke="#333333" stroke-width="1" stroke-linejoin="miter"/>
<polygon points="276.50,411.50 266.50,406.50 266.50,416.50" fill="#ff7f0e" stroke="#333333" stroke-width="1" stroke-linejoin="miter"/>
<polygon points="485.50,410.50 475.50,405.50 475.50,415.50" fill="#ff7f0e" stroke="#333333" stroke-width="1" stroke-linejoin="miter"/>
<polygon points="694.50,406.50 684.50,401.50 684.50,411.50" fill="#ff7f0e" stroke="#333333" stroke-width="1" stroke-linejoin="miter"/>
<polygon points="904.50,398.50 894.50,393.50 894.50,403.50" fill="#ff7f0e" stroke="#333333" stroke-width="1" stroke-linejoin="miter"/>
<path d="M62.20,307.08 L64.29,316.24 L66.39,322.93 L66.97,324.15 L68.48,326.40 L70.57,328.62 L72.20,330.35 L72.66,330.91 L74.76,333.55 L76.85,336.08 L77.39,336.68 L78.94,338.26 L81.03,340.21 L83.12,342.09 L85.22,344.05 L85.72,344.55 L87.31,346.26 L89.40,348.59 L90.95,350.16 L91.50,350.66 L93.59,352.44 L95.68,354.08 L96.18,354.46 L97.77,355.60 L99.87,356.99 L101.96,358.42 L103.46,359.59 L104.05,360.10 L106.14,362.24 L108.24,364.46 L109.70,365.80 L110.33,366.30 L112.42,367.91 L114.51,369.28 L115.94,369.97 L116.61,370.21 L118.70,370.74 L119.99,371.17 L120.79,371.60 L122.88,373.26 L124.10,374.15 L124.98,374.67 L127.07,375.79 L129.12,376.77 L129.16,376.79 L131.25,377.65 L133.35,378.44 L135.02,379.16 L135.44,379.36 L137.53,380.44 L139.12,381.43 L139.62,381.80 L141.72,383.70 L142.80,384.65 L143.81,385.45 L145.90,386.88 L145.98,386.92 L147.99,387.73 L150.09,388.40 L151.01,388.71 L152.18,389.13 L154.27,389.89 L154.98,390.14 L156.36,390.56 L158.46,391.23 L158.71,391.33 L160.55,392.42 L162.64,393.77 L163.06,393.96 L164.73,394.52 L166.82,395.07 L168.92,395.57 L169.59,395.75 L171.01,396.11 L173.10,396.62 L175.19,397.17 L176.03,397.42 L177.29,397.88 L179.38,398.77 L180.64,399.21 L181.47,399.43 L183.57,399.87 L184.82,400.16 L185.66,400.38 L187.75,400.99 L192.77,402.55 L196.12,403.65 L199.47,404.58 L204.49,405.37 L208.26,405.89 L212.86,406.68 L216.21,407.20 L221.23,407.83 L225.00,408.16 L229.60,408.41 L237.97,408.75 L242.16,408.87 L246.34,408.98 L254.71,409.15 L263.08,409.30 L271.45,409.47 L271.45,409.47 L279.82,409.73 L288.19,409.94 L289.86,409.95 L296.56,409.94 L304.93,409.91 L313.30,409.86 L321.67,409.80 L330.04,409.72 L338.41,409.64 L346.78,409.55 L355.15,409.45 L363.52,409.36 L371.89,409.27 L380.26,409.19 L388.63,409.12 L389.89,409.11 L397.00,409.06 L405.37,409.01 L413.74,408.97 L422.11,408.93 L430.48,408.89 L438.85,408.84 L447.22,408.80 L455.59,408.74 L463.96,408.68 L472.33,408.60 L480.70,408.52 L480.70,408.52 L489.07,408.37 L497.44,408.14 L505.81,407.85 L514.18,407.52 L522.55,407.16 L530.92,406.80 L539.29,406.46 L544.73,406.25 L547.66,406.14 L556.03,405.83 L564.40,405.52 L572.77,405.21 L581.14,404.89 L589.51,404.58 L589.51,404.58 L597.88,404.26 L606.25,403.95 L614.62,403.63 L622.99,403.32 L631.36,403.01 L639.73,402.69 L648.10,402.38 L656.47,402.07 L659.82,401.95 L664.84,401.78 L673.21,401.49 L681.58,401.20 L689.95,400.88 L689.95,400.88 L698.32,400.47 L706.69,400.01 L715.06,399.55 L719.66,399.33 L723.43,399.15 L731.80,398.79 L739.75,398.49 L740.17,398.48 L748.54,398.23 L756.91,398.01 L765.28,397.81 L773.65,397.63 L782.02,397.43 L790.39,397.22 L798.76,396.97 L799.60,396.94 L807.13,396.66 L815.50,396.29 L823.87,395.88 L832.24,395.47 L840.61,395.07 L848.98,394.71 L849.82,394.67 L857.35,394.39 L865.72,394.08 L874.09,393.79 L882.46,393.51 L890.83,393.25 L899.20,393.00" fill="none" stroke="#2ca02c" stroke-width="1.5" stroke-linejoin="round" stroke-linecap="square" />
<circle cx="62.50" cy="308.50" r="5.0" fill="#2ca02c" stroke="#333333" stroke-width="1"/>
<circle cx="271.50" cy="410.50" r="5.0" fill="#2ca02c" stroke="#333333" stroke-width="1"/>
<circle cx="480.50" cy="408.50" r="5.0" fill="#2ca02c" stroke="#333333" stroke-width="1"/>
<circle cx="689.50" cy="400.50" r="5.0" fill="#2ca02c" stroke="#333333" stroke-width="1"/>
<circle cx="899.50" cy="393.50" r="5.0" fill="#2ca02c" stroke="#333333" stroke-width="1"/>
<path d="M62.20,313.65 L64.29,333.22 L64.92,335.60 L66.39,337.36 L68.48,338.68 L70.11,339.78 L70.57,340.21 L72.66,342.34 L74.76,344.49 L75.34,345.03 L76.85,346.35 L78.94,348.05 L80.53,349.21 L81.03,349.54 L83.12,350.74 L85.22,351.97 L85.72,352.31 L87.31,353.63 L89.40,355.61 L90.95,356.96 L91.50,357.39 L93.59,358.92 L95.68,360.34 L96.18,360.66 L97.77,361.64 L99.87,362.85 L101.37,363.77 L101.96,364.15 L104.05,365.66 L106.14,367.09 L106.56,367.35 L108.24,368.23 L110.33,369.23 L111.79,369.97 L112.42,370.32 L114.51,371.54 L116.61,372.83 L118.70,374.16 L119.99,374.98 L120.79,375.50 L122.88,376.93 L124.56,377.97 L124.98,378.20 L127.07,379.26 L129.16,380.22 L131.25,381.16 L131.84,381.43 L133.35,382.09 L135.44,382.97 L137.53,383.88 L139.12,384.65 L139.62,384.92 L141.72,386.19 L143.81,387.51 L145.10,388.23 L145.90,388.62 L147.99,389.57 L150.09,390.40 L151.01,390.74 L152.18,391.09 L154.27,391.68 L154.98,391.93 L156.36,392.64 L158.46,394.11 L160.55,395.48 L161.38,395.87 L162.64,396.30 L164.73,396.87 L166.82,397.36 L168.50,397.78 L168.92,397.89 L171.01,398.44 L173.10,398.99 L175.19,399.57 L176.03,399.80 L177.29,400.18 L179.38,400.85 L181.47,401.53 L183.57,402.19 L184.82,402.55 L185.66,402.77 L187.75,403.27 L191.10,404.10 L196.12,405.80 L199.05,406.73 L204.49,407.99 L207.00,408.52 L212.86,409.75 L214.53,410.07 L221.23,411.22 L222.49,411.38 L229.60,412.10 L237.97,412.76 L246.34,413.29 L246.34,413.29 L254.71,413.71 L263.08,414.07 L271.45,414.48 L271.45,414.48 L279.82,415.19 L288.19,415.77 L289.86,415.79 L296.56,415.79 L304.93,415.78 L313.30,415.75 L321.67,415.72 L330.04,415.67 L338.41,415.62 L346.78,415.57 L355.15,415.50 L363.52,415.43 L371.89,415.36 L380.26,415.29 L388.63,415.21 L389.89,415.20 L397.00,415.12 L405.37,415.01 L413.74,414.89 L422.11,414.74 L430.48,414.57 L438.85,414.39 L447.22,414.19 L455.59,413.98 L463.96,413.76 L472.33,413.53 L480.70,413.29 L480.70,413.29 L489.07,413.02 L497.44,412.71 L505.81,412.36 L514.18,411.98 L522.55,411.57 L530.92,411.15 L539.29,410.71 L544.73,410.42 L547.66,410.26 L556.03,409.72 L564.40,409.12 L572.77,408.52 L581.14,407.98 L589.51,407.56 L589.51,407.56 L597.88,407.24 L606.25,406.97 L614.62,406.72 L622.99,406.50 L631.36,406.29 L639.73,406.08 L648.10,405.86 L656.47,405.63 L659.82,405.53 L664.84,405.38 L673.21,405.12 L681.58,404.85 L689.95,404.58 L689.95,404.58 L698.32,404.30 L706.69,404.02 L715.06,403.70 L719.66,403.50 L723.43,403.30 L731.80,402.76 L739.75,402.31 L740.17,402.29 L748.54,401.98 L756.91,401.72 L765.28,401.50 L773.65,401.29 L782.02,401.08 L790.39,400.84 L798.76,400.55 L799.60,400.52 L807.13,400.19 L815.50,399.77 L823.87,399.29 L832.24,398.81 L840.61,398.35 L848.98,397.93 L849.82,397.90 L857.35,397.57 L865.72,397.21 L874.09,396.88 L882.46,396.56 L890.83,396.26 L899.20,395.99" fill="none" stroke="#d62728" stroke-width="1.5" stroke-linejoin="round" stroke-linecap="butt" stroke-dasharray="5.55 2.4"/>
<polygon points="57.50,313.50 67.50,308.50 67.50,318.50" fill="#d62728" stroke="#333333" stroke-width="1" stroke-linejoin="miter"/>
<polygon points="266.50,413.50 276.50,408.50 276.50,418.50" fill="#d62728" stroke="#333333" stroke-width="1" stroke-linejoin="miter"/>
<polygon points="475.50,413.50 485.50,408.50 485.50,418.50" fill="#d62728" stroke="#333333" stroke-width="1" stroke-linejoin="miter"/>
<polygon points="684.50,403.50 694.50,398.50 694.50,408.50" fill="#d62728" stroke="#333333" stroke-width="1" stroke-linejoin="miter"/>
<polygon points="894.50,396.50 904.50,391.50 904.50,401.50" fill="#d62728" stroke="#333333" stroke-width="1" stroke-linejoin="miter"/>
<path d="M62.20,330.95 L64.29,356.53 L65.55,362.57 L66.39,362.55 L68.48,362.40 L70.11,362.33 L70.57,362.35 L72.66,362.81 L74.76,363.67 L76.85,364.65 L78.44,365.32 L78.94,365.50 L81.03,366.28 L83.12,367.06 L85.22,367.84 L86.77,368.42 L87.31,368.63 L89.40,369.45 L91.50,370.27 L93.59,371.04 L95.09,371.52 L95.68,371.69 L97.77,372.20 L99.87,372.66 L101.96,373.14 L103.46,373.55 L104.05,373.73 L106.14,374.47 L108.24,375.30 L110.33,376.17 L111.79,376.77 L112.42,377.03 L114.51,377.88 L116.61,378.75 L118.70,379.63 L120.79,380.52 L121.79,380.95 L122.88,381.43 L124.98,382.41 L127.07,383.36 L129.12,384.17 L129.16,384.19 L131.25,384.83 L133.35,385.38 L135.44,385.95 L136.90,386.44 L137.53,386.69 L139.62,387.68 L141.72,388.80 L143.81,389.84 L144.23,390.02 L145.90,390.66 L147.99,391.38 L150.09,392.09 L151.88,392.76 L152.18,392.89 L154.27,393.84 L156.36,394.80 L158.46,395.78 L160.55,396.64 L161.80,397.06 L162.64,397.29 L164.73,397.74 L166.82,398.14 L168.92,398.61 L169.34,398.73 L171.01,399.32 L173.10,400.25 L175.19,401.20 L176.87,401.83 L177.29,401.97 L179.38,402.58 L181.47,403.13 L183.57,403.65 L184.40,403.86 L185.66,404.17 L187.75,404.65 L192.77,405.89 L196.12,407.04 L199.47,408.16 L204.49,409.22 L207.42,409.83 L212.86,411.25 L215.37,411.86 L221.23,412.95 L222.49,413.17 L229.60,414.38 L237.97,415.73 L246.34,416.87 L246.34,416.87 L254.71,417.87 L263.08,418.74 L271.45,419.26 L271.45,419.26 L279.82,419.47 L288.19,419.60 L289.86,419.61 L296.56,419.66 L304.93,419.71 L313.30,419.76 L321.67,419.80 L330.04,419.84 L338.41,419.88 L346.78,419.90 L355.15,419.93 L363.52,419.95 L371.89,419.96 L380.26,419.97 L388.63,419.97 L389.89,419.97 L397.00,419.95 L405.37,419.86 L413.74,419.71 L422.11,419.52 L430.48,419.29 L438.85,419.03 L447.22,418.75 L455.59,418.46 L463.96,418.16 L472.33,417.87 L480.70,417.58 L480.70,417.58 L489.07,417.29 L497.44,416.95 L505.81,416.59 L514.18,416.22 L522.55,415.84 L530.92,415.48 L539.29,415.15 L544.73,414.96 L547.66,414.86 L556.03,414.61 L564.40,414.38 L572.77,414.15 L581.14,413.91 L589.51,413.65 L589.51,413.65 L597.88,413.33 L606.25,412.98 L614.62,412.59 L622.99,412.19 L631.36,411.80 L639.73,411.42 L648.10,411.07 L656.47,410.77 L659.82,410.66 L664.84,410.53 L673.21,410.35 L681.58,410.17 L689.95,409.95 L689.95,409.95 L698.32,409.65 L706.69,409.29 L715.06,408.82 L719.66,408.52 L723.43,408.13 L731.80,406.84 L739.75,406.01 L740.17,405.99 L748.54,405.74 L756.91,405.57 L765.28,405.44 L773.65,405.34 L782.02,405.24 L790.39,405.12 L798.76,404.96 L799.60,404.94 L807.13,404.72 L815.50,404.43 L823.87,404.10 L832.24,403.77 L840.61,403.45 L848.98,403.17 L849.82,403.15 L857.35,402.93 L865.72,402.71 L874.09,402.50 L882.46,402.30 L890.83,402.12 L899.20,401.95" fill="none" stroke="#9467bd" stroke-width="1.5" stroke-linejoin="round" stroke-linecap="butt" stroke-dasharray="5.55 2.4"/>
<polygon points="57.50,330.50 67.50,325.50 67.50,335.50" fill="#9467bd" stroke="#333333" stroke-width="1" stroke-linejoin="miter"/>
<polygon points="266.50,421.50 276.50,416.50 276.50,426.50" fill="#9467bd" stroke="#333333" stroke-width="1" stroke-linejoin="miter"/>
<polygon points="475.50,419.50 485.50,414.50 485.50,424.50" fill="#9467bd" stroke="#333333" stroke-width="1" stroke-linejoin="miter"/>
<polygon points="684.50,408.50 694.50,403.50 694.50,413.50" fill="#9467bd" stroke="#333333" stroke-width="1" stroke-linejoin="miter"/>
<polygon points="894.50,401.50 904.50,396.50 904.50,406.50" fill="#9467bd" stroke="#333333" stroke-width="1" stroke-linejoin="miter"/>
<path d="M62.20,338.11 L64.29,346.19 L64.92,347.66 L66.39,349.85 L68.48,352.01 L70.11,353.38 L70.57,353.77 L72.66,355.35 L74.76,356.73 L76.85,358.01 L76.89,358.04 L78.94,359.22 L81.03,360.33 L83.12,361.44 L83.67,361.74 L85.22,362.59 L87.31,363.74 L89.40,364.91 L90.95,365.80 L91.50,366.11 L93.59,367.40 L95.68,368.74 L97.77,370.06 L99.87,371.31 L101.37,372.12 L101.96,372.42 L104.05,373.49 L106.14,374.54 L108.24,375.57 L110.33,376.57 L112.42,377.53 L114.51,378.44 L116.61,379.28 L118.70,380.06 L120.79,380.74 L122.88,381.34 L123.22,381.43 L124.98,381.82 L127.07,382.20 L129.16,382.58 L130.50,382.86 L131.25,383.04 L133.35,383.58 L135.44,384.18 L137.53,384.82 L139.62,385.48 L141.72,386.14 L143.81,386.78 L145.48,387.27 L145.90,387.40 L147.99,388.07 L150.09,388.75 L152.18,389.30 L153.68,389.54 L154.27,389.59 L156.36,389.71 L157.20,389.78 L158.46,390.10 L160.55,391.01 L161.38,391.33 L162.64,391.73 L164.73,392.31 L165.15,392.41 L166.82,392.73 L168.92,393.06 L169.34,393.12 L171.01,393.33 L173.10,393.55 L175.19,393.76 L176.87,393.96 L177.29,394.01 L179.38,394.30 L181.47,394.62 L183.57,394.95 L184.82,395.15 L185.66,395.28 L187.75,395.61 L188.59,395.75 L196.12,396.99 L196.54,397.06 L204.49,398.37 L204.49,398.37 L212.86,399.28 L220.39,399.92 L221.23,399.99 L229.60,400.57 L237.97,401.08 L246.34,401.59 L246.34,401.59 L254.71,402.17 L263.08,402.75 L271.45,403.26 L271.45,403.26 L279.82,403.68 L288.19,404.03 L289.86,404.10 L296.56,404.36 L304.93,404.67 L313.30,404.97 L321.67,405.26 L330.04,405.54 L338.41,405.81 L346.78,406.08 L355.15,406.33 L363.52,406.58 L371.89,406.82 L380.26,407.06 L388.63,407.29 L389.89,407.32 L397.00,407.52 L405.37,407.74 L413.74,407.97 L422.11,408.18 L430.48,408.40 L438.85,408.60 L447.22,408.80 L455.59,408.99 L463.96,409.16 L472.33,409.32 L480.70,409.47 L480.70,409.47 L489.07,409.59 L497.44,409.70 L505.81,409.79 L514.18,409.87 L522.55,409.97 L530.92,410.07 L539.29,410.20 L544.73,410.31 L547.66,410.38 L556.03,410.71 L564.40,411.15 L572.77,411.59 L581.14,411.94 L589.51,412.10 L589.51,412.10 L597.88,412.12 L606.25,412.14 L614.62,412.15 L622.99,412.15 L631.36,412.16 L639.73,412.17 L648.10,412.18 L656.47,412.20 L659.82,412.21 L664.84,412.26 L673.21,412.43 L681.58,412.61 L689.95,412.69 L689.95,412.69 L698.32,412.69 L706.69,412.69 L715.06,412.69 L723.43,412.69 L731.80,412.69 L739.75,412.69 L740.17,412.69 L748.54,412.71 L756.91,412.74 L765.28,412.79 L773.65,412.83 L782.02,412.88 L790.39,412.92 L798.76,412.93 L799.60,412.93 L807.13,412.93 L815.50,412.93 L823.87,412.93 L832.24,412.93 L840.61,412.93 L848.98,412.93 L857.35,412.93 L865.72,412.93 L874.09,412.93 L882.46,412.93 L890.83,412.93 L899.20,412.93" fill="none" stroke="#8c564b" stroke-width="1.5" stroke-linejoin="round" stroke-linecap="butt" stroke-dasharray="1.5 2.475"/>
<polygon points="62.50,330.50 57.50,340.50 67.50,340.50" fill="#8c564b" stroke="#333333" stroke-width="1" stroke-linejoin="miter"/>
<polygon points="271.50,398.50 266.50,408.50 276.50,408.50" fill="#8c564b" stroke="#333333" stroke-width="1" stroke-linejoin="miter"/>
<polygon points="480.50,407.50 475.50,417.50 485.50,417.50" fill="#8c564b" stroke="#333333" stroke-width="1" stroke-linejoin="miter"/>
<polygon points="689.50,408.50 684.50,418.50 694.50,418.50" fill="#8c564b" stroke="#333333" stroke-width="1" stroke-linejoin="miter"/>
<polygon points="899.50,408.50 894.50,418.50 904.50,418.50" fill="#8c564b" stroke="#333333" stroke-width="1" stroke-linejoin="miter"/>
<path d="M62.20,319.02 L64.29,323.93 L66.39,328.24 L68.48,331.84 L69.61,333.46 L70.57,334.65 L72.66,336.81 L74.76,338.75 L75.34,339.30 L76.85,340.74 L78.94,342.69 L81.03,344.56 L81.58,345.03 L83.12,346.34 L85.22,348.05 L87.31,349.75 L87.81,350.16 L89.40,351.52 L91.50,353.34 L93.59,355.04 L94.09,355.41 L95.68,356.53 L97.77,357.93 L99.87,359.26 L101.96,360.53 L104.05,361.74 L106.14,362.92 L108.24,364.06 L109.70,364.84 L110.33,365.17 L112.42,366.19 L114.51,367.14 L116.61,368.08 L118.70,369.06 L120.79,370.13 L121.38,370.45 L122.88,371.42 L124.56,372.48 L124.98,372.70 L127.07,373.68 L128.20,374.15 L129.16,374.52 L131.25,375.25 L131.84,375.46 L133.35,375.99 L135.44,376.76 L135.48,376.77 L137.53,377.68 L139.12,378.44 L139.62,378.69 L141.72,379.79 L142.80,380.35 L143.81,380.88 L145.90,381.94 L146.40,382.14 L147.99,382.64 L150.09,383.22 L152.18,383.90 L153.68,384.41 L154.27,384.61 L156.36,385.36 L158.46,386.11 L160.55,386.79 L161.38,387.04 L162.64,387.36 L164.73,387.85 L166.82,388.31 L168.50,388.71 L168.92,388.81 L171.01,389.35 L173.10,389.92 L175.19,390.50 L176.45,390.85 L177.29,391.11 L179.38,391.82 L181.47,392.52 L183.57,393.05 L183.98,393.12 L185.66,393.32 L187.75,393.54 L188.17,393.60 L195.70,395.75 L196.12,395.86 L203.65,397.78 L204.49,397.93 L212.02,399.09 L212.86,399.21 L221.23,400.41 L222.90,400.64 L229.60,401.55 L237.97,402.67 L246.34,403.74 L246.34,403.74 L254.71,404.96 L263.08,406.14 L271.45,406.73 L271.45,406.73 L279.82,406.79 L288.19,406.83 L289.86,406.84 L296.56,406.91 L304.93,407.00 L313.30,407.12 L321.67,407.25 L330.04,407.39 L338.41,407.53 L346.78,407.68 L355.15,407.83 L363.52,407.98 L371.89,408.12 L380.26,408.26 L388.63,408.38 L389.89,408.40 L397.00,408.49 L405.37,408.61 L413.74,408.73 L422.11,408.84 L430.48,408.96 L438.85,409.07 L447.22,409.17 L455.59,409.26 L463.96,409.35 L472.33,409.42 L480.70,409.47 L480.70,409.47 L489.07,409.51 L497.44,409.55 L505.81,409.58 L514.18,409.60 L522.55,409.63 L530.92,409.66 L539.29,409.69 L544.73,409.71 L547.66,409.72 L556.03,409.77 L564.40,409.83 L572.77,409.89 L581.14,409.93 L589.51,409.95 L589.51,409.95 L597.88,409.92 L606.25,409.86 L614.62,409.77 L622.99,409.67 L631.36,409.56 L639.73,409.47 L648.10,409.39 L656.47,409.35 L659.82,409.35 L664.84,409.35 L673.21,409.35 L681.58,409.35 L689.95,409.35 L689.95,409.35 L698.32,409.22 L706.69,408.92 L715.06,408.62 L719.66,408.52 L723.43,408.46 L731.80,408.37 L739.75,408.28 L740.17,408.27 L748.54,408.15 L756.91,408.01 L765.28,407.87 L773.65,407.72 L782.02,407.58 L790.39,407.44 L798.76,407.33 L799.60,407.32 L807.13,407.24 L815.50,407.17 L823.87,407.10 L832.24,407.04 L840.61,406.96 L848.98,406.86 L849.82,406.84 L857.35,406.72 L865.72,406.54 L874.09,406.33 L882.46,406.09 L890.83,405.82 L899.20,405.53" fill="none" stroke="#e377c2" stroke-width="1.5" stroke-linejoin="round" stroke-linecap="butt" stroke-dasharray="1.5 2.475"/>
<polygon points="62.50,310.50 57.50,320.50 67.50,320.50" fill="#e377c2" stroke="#333333" stroke-width="1" stroke-linejoin="miter"/>
<polygon points="271.50,401.50 266.50,411.50 276.50,411.50" fill="#e377c2" stroke="#333333" stroke-width="1" stroke-linejoin="miter"/>
<polygon points="480.50,406.50 475.50,416.50 485.50,416.50" fill="#e377c2" stroke="#333333" stroke-width="1" stroke-linejoin="miter"/>
<polygon points="689.50,404.50 684.50,414.50 694.50,414.50" fill="#e377c2" stroke="#333333" stroke-width="1" stroke-linejoin="miter"/>
<polygon points="899.50,401.50 894.50,411.50 904.50,411.50" fill="#e377c2" stroke="#333333" stroke-width="1" stroke-linejoin="miter"/>
<path d="M62.20,311.86 L64.29,330.05 L66.39,342.10 L66.97,343.36 L68.48,344.76 L70.57,345.95 L72.66,346.81 L74.29,347.66 L74.76,347.95 L76.85,349.27 L78.94,350.65 L81.03,352.16 L82.58,353.38 L83.12,353.86 L85.22,355.99 L86.77,357.56 L87.31,358.07 L89.40,360.02 L91.50,361.90 L93.59,363.66 L95.09,364.84 L95.68,365.27 L97.77,366.69 L99.87,368.02 L101.37,369.02 L101.96,369.42 L104.05,370.90 L106.14,372.44 L108.24,374.02 L110.33,375.61 L112.42,377.21 L114.51,378.78 L116.61,380.32 L118.70,381.80 L120.79,383.20 L122.88,384.51 L124.56,385.48 L124.98,385.71 L127.07,386.72 L128.20,387.27 L129.16,387.80 L131.25,389.00 L131.38,389.06 L133.35,390.06 L135.02,390.97 L135.44,391.24 L137.53,392.77 L138.20,393.24 L139.62,394.09 L141.72,395.38 L141.88,395.51 L143.81,397.54 L144.60,398.25 L145.90,399.04 L147.78,399.92 L147.99,400.01 L150.09,400.79 L151.76,401.36 L152.18,401.49 L154.27,402.12 L155.53,402.55 L156.36,402.90 L158.46,403.97 L159.08,404.34 L160.55,405.45 L162.39,406.73 L162.64,406.83 L164.73,407.45 L166.11,407.80 L166.82,408.00 L168.92,408.57 L170.01,408.87 L171.01,409.15 L173.10,409.75 L173.69,409.95 L175.19,410.63 L177.29,411.68 L177.41,411.74 L179.38,412.51 L181.05,413.05 L181.47,413.16 L183.57,413.62 L184.82,413.89 L185.66,414.08 L187.75,414.57 L189.01,414.84 L192.77,415.56 L196.12,416.71 L200.31,418.06 L204.49,418.57 L207.84,418.90 L212.86,419.53 L215.79,419.85 L221.23,420.30 L224.16,420.45 L229.60,420.58 L237.97,420.71 L246.34,420.81 L246.34,420.81 L254.71,420.91 L263.08,421.01 L271.45,421.05 L271.45,421.05 L279.82,420.77 L288.19,420.29 L289.86,420.21 L296.56,419.94 L304.93,419.61 L313.30,419.29 L321.67,418.98 L330.04,418.67 L338.41,418.38 L346.78,418.08 L355.15,417.80 L363.52,417.51 L371.89,417.23 L380.26,416.95 L388.63,416.67 L389.89,416.63 L397.00,416.40 L405.37,416.14 L413.74,415.89 L422.11,415.65 L430.48,415.41 L438.85,415.17 L447.22,414.93 L455.59,414.67 L463.96,414.39 L472.33,414.09 L480.70,413.77 L480.70,413.77 L489.07,413.42 L497.44,413.05 L505.81,412.65 L514.18,412.22 L522.55,411.75 L530.92,411.25 L539.29,410.69 L544.73,410.31 L547.66,410.08 L556.03,409.27 L564.40,408.32 L572.77,407.32 L581.14,406.36 L589.51,405.53 L589.51,405.53 L597.88,404.82 L606.25,404.12 L614.62,403.45 L622.99,402.82 L631.36,402.22 L639.73,401.66 L648.10,401.15 L656.47,400.69 L659.82,400.52 L664.84,400.30 L673.21,400.00 L681.58,399.71 L689.95,399.33 L689.95,399.33 L698.32,398.69 L706.69,397.86 L715.06,397.05 L719.66,396.70 L723.43,396.47 L731.80,396.03 L739.75,395.63 L740.17,395.60 L748.54,395.15 L756.91,394.68 L765.28,394.21 L773.65,393.74 L782.02,393.27 L790.39,392.80 L798.76,392.33 L799.60,392.29 L807.13,391.87 L815.50,391.41 L823.87,390.94 L832.24,390.49 L840.61,390.03 L848.98,389.59 L849.82,389.54 L857.35,389.15 L865.72,388.71 L874.09,388.29 L882.46,387.86 L890.83,387.45 L899.20,387.04" fill="none" stroke="#7f7f7f" stroke-width="1.5" stroke-linejoin="round" stroke-linecap="butt" stroke-dasharray="1.5 2.475"/>
<polygon points="62.50,317.50 57.50,307.50 67.50,307.50" fill="#7f7f7f" stroke="#333333" stroke-width="1" stroke-linejoin="miter"/>
<polygon points="271.50,426.50 266.50,416.50 276.50,416.50" fill="#7f7f7f" stroke="#333333" stroke-width="1" stroke-linejoin="miter"/>
<polygon points="480.50,418.50 475.50,408.50 485.50,408.50" fill="#7f7f7f" stroke="#333333" stroke-width="1" stroke-linejoin="miter"/>
<polygon points="689.50,404.50 684.50,394.50 694.50,394.50" fill="#7f7f7f" stroke="#333333" stroke-width="1" stroke-linejoin="miter"/>
<polygon points="899.50,392.50 894.50,382.50 904.50,382.50" fill="#7f7f7f" stroke="#333333" stroke-width="1" stroke-linejoin="miter"/>
<path d="M62.20,329.76 L64.29,365.80 L66.39,370.45 L68.48,369.17 L69.61,368.42 L70.57,368.06 L72.66,367.46 L73.79,367.35 L74.76,367.41 L76.85,367.81 L77.89,368.06 L78.94,368.35 L81.03,369.09 L82.08,369.49 L83.12,369.91 L85.22,370.82 L85.72,371.05 L87.31,371.79 L89.40,372.82 L89.90,373.07 L91.50,373.88 L93.59,374.97 L94.09,375.22 L95.68,376.05 L97.77,377.14 L99.28,377.85 L99.87,378.10 L101.96,378.90 L104.05,379.70 L104.47,379.88 L106.14,380.64 L108.24,381.66 L110.33,382.75 L110.75,382.98 L112.42,383.91 L114.51,385.14 L116.61,386.42 L117.02,386.68 L118.70,387.73 L120.50,388.95 L120.79,389.17 L122.88,390.93 L123.59,391.45 L124.98,392.27 L127.07,393.35 L127.32,393.48 L129.16,394.39 L130.92,395.27 L131.25,395.45 L133.35,396.65 L134.10,397.06 L135.44,397.71 L137.53,398.71 L137.78,398.85 L139.62,400.02 L141.00,401.00 L141.72,401.57 L143.81,403.29 L144.18,403.50 L145.90,404.11 L147.28,404.58 L147.99,404.93 L150.09,406.24 L151.34,406.96 L152.18,407.35 L154.27,408.19 L155.02,408.52 L156.36,409.13 L158.45,410.19 L158.46,410.19 L160.55,411.56 L162.01,412.45 L162.64,412.75 L164.73,413.60 L165.49,413.89 L166.82,414.36 L168.92,415.05 L169.38,415.20 L171.01,415.65 L173.10,416.27 L173.10,416.27 L175.19,417.23 L176.79,418.06 L177.29,418.33 L179.38,419.48 L180.22,419.85 L181.47,420.27 L183.57,420.82 L183.98,420.93 L185.66,421.30 L187.75,421.76 L195.28,424.15 L196.12,424.41 L203.23,426.53 L204.49,426.73 L211.19,427.49 L212.86,427.77 L218.72,428.80 L221.23,429.04 L229.60,429.65 L237.97,430.07 L242.16,430.23 L246.34,430.38 L254.71,430.66 L263.08,430.87 L271.45,430.95 L271.45,430.95 L279.82,430.65 L288.19,430.09 L289.86,429.99 L296.56,429.65 L304.93,429.23 L313.30,428.81 L321.67,428.39 L330.04,427.98 L338.41,427.56 L346.78,427.14 L355.15,426.70 L363.52,426.26 L371.89,425.80 L380.26,425.32 L388.63,424.82 L389.89,424.74 L397.00,424.29 L405.37,423.73 L413.74,423.13 L422.11,422.52 L430.48,421.88 L438.85,421.24 L447.22,420.59 L455.59,419.94 L463.96,419.30 L472.33,418.67 L480.70,418.06 L480.70,418.06 L489.07,417.46 L497.44,416.84 L505.81,416.22 L514.18,415.61 L522.55,415.02 L530.92,414.47 L539.29,413.95 L544.73,413.65 L547.66,413.49 L556.03,413.12 L564.40,412.79 L572.77,412.46 L581.14,412.08 L589.51,411.62 L589.51,411.62 L597.88,410.94 L606.25,410.02 L614.62,408.94 L622.99,407.77 L631.36,406.60 L639.73,405.52 L648.10,404.60 L656.47,403.92 L659.82,403.74 L664.84,403.54 L673.21,403.30 L681.58,403.08 L689.95,402.79 L689.95,402.79 L698.32,402.35 L706.69,401.80 L715.06,401.15 L719.66,400.76 L723.43,400.37 L731.80,399.31 L739.75,398.49 L740.17,398.46 L748.54,397.96 L756.91,397.54 L765.28,397.20 L773.65,396.89 L782.02,396.59 L790.39,396.27 L798.76,395.91 L799.60,395.87 L807.13,395.48 L815.50,395.01 L823.87,394.52 L832.24,394.04 L840.61,393.58 L848.98,393.16 L849.82,393.12 L857.35,392.79 L865.72,392.43 L874.09,392.09 L882.46,391.78 L890.83,391.48 L899.20,391.21" fill="none" stroke="#bcbd22" stroke-width="1.5" stroke-linejoin="round" stroke-linecap="butt" stroke-dasharray="1.5 2.475"/>
<polygon points="62.50,335.50 57.50,325.50 67.50,325.50" fill="#bcbd22" stroke="#333333" stroke-width="1" stroke-linejoin="miter"/>
<polygon points="271.50,436.50 266.50,426.50 276.50,426.50" fill="#bcbd22" stroke="#333333" stroke-width="1" stroke-linejoin="miter"/>
<polygon points="480.50,423.50 475.50,413.50 485.50,413.50" fill="#bcbd22" stroke="#333333" stroke-width="1" stroke-linejoin="miter"/>
<polygon points="689.50,408.50 684.50,398.50 694.50,398.50" fill="#bcbd22" stroke="#333333" stroke-width="1" stroke-linejoin="miter"/>
<polygon points="899.50,396.50 894.50,386.50 904.50,386.50" fill="#bcbd22" stroke="#333333" stroke-width="1" stroke-linejoin="miter"/>
</g>
<g clip-path="url(#clipc)">
<line x1="62.0" y1="712.1" x2="899.5" y2="712.1" stroke="#808080" stroke-width="1.5" stroke-dasharray="1.5 2.475"/>
<polygon points="192.50,593.50 182.50,588.50 182.50,598.50" fill="#1f77b4" stroke="#333333" stroke-width="1" stroke-linejoin="miter"/>
<polygon points="360.50,630.50 350.50,625.50 350.50,635.50" fill="#1f77b4" stroke="#333333" stroke-width="1" stroke-linejoin="miter"/>
<polygon points="192.50,592.50 182.50,587.50 182.50,597.50" fill="#ff7f0e" stroke="#333333" stroke-width="1" stroke-linejoin="miter"/>
<circle cx="145.50" cy="545.50" r="5.0" fill="#2ca02c" stroke="#333333" stroke-width="1"/>
<circle cx="187.50" cy="585.50" r="5.0" fill="#2ca02c" stroke="#333333" stroke-width="1"/>
<circle cx="271.50" cy="622.50" r="5.0" fill="#2ca02c" stroke="#333333" stroke-width="1"/>
<circle cx="355.50" cy="627.50" r="5.0" fill="#2ca02c" stroke="#333333" stroke-width="1"/>
<polygon points="182.50,593.50 192.50,588.50 192.50,598.50" fill="#9467bd" stroke="#333333" stroke-width="1" stroke-linejoin="miter"/>
<polygon points="350.50,631.50 360.50,626.50 360.50,636.50" fill="#9467bd" stroke="#333333" stroke-width="1" stroke-linejoin="miter"/>
<polygon points="187.50,581.50 182.50,591.50 192.50,591.50" fill="#8c564b" stroke="#333333" stroke-width="1" stroke-linejoin="miter"/>
<polygon points="271.50,618.50 266.50,628.50 276.50,628.50" fill="#8c564b" stroke="#333333" stroke-width="1" stroke-linejoin="miter"/>
<polygon points="355.50,629.50 350.50,639.50 360.50,639.50" fill="#8c564b" stroke="#333333" stroke-width="1" stroke-linejoin="miter"/>
<polygon points="145.50,533.50 140.50,543.50 150.50,543.50" fill="#e377c2" stroke="#333333" stroke-width="1" stroke-linejoin="miter"/>
<polygon points="187.50,583.50 182.50,593.50 192.50,593.50" fill="#e377c2" stroke="#333333" stroke-width="1" stroke-linejoin="miter"/>
<polygon points="271.50,622.50 266.50,632.50 276.50,632.50" fill="#e377c2" stroke="#333333" stroke-width="1" stroke-linejoin="miter"/>
<polygon points="355.50,626.50 350.50,636.50 360.50,636.50" fill="#e377c2" stroke="#333333" stroke-width="1" stroke-linejoin="miter"/>
<polygon points="145.50,557.50 140.50,547.50 150.50,547.50" fill="#7f7f7f" stroke="#333333" stroke-width="1" stroke-linejoin="miter"/>
<polygon points="187.50,587.50 182.50,577.50 192.50,577.50" fill="#7f7f7f" stroke="#333333" stroke-width="1" stroke-linejoin="miter"/>
<polygon points="271.50,613.50 266.50,603.50 276.50,603.50" fill="#7f7f7f" stroke="#333333" stroke-width="1" stroke-linejoin="miter"/>
<polygon points="355.50,618.50 350.50,608.50 360.50,608.50" fill="#7f7f7f" stroke="#333333" stroke-width="1" stroke-linejoin="miter"/>
<polygon points="145.50,569.50 140.50,559.50 150.50,559.50" fill="#bcbd22" stroke="#333333" stroke-width="1" stroke-linejoin="miter"/>
<polygon points="187.50,591.50 182.50,581.50 192.50,581.50" fill="#bcbd22" stroke="#333333" stroke-width="1" stroke-linejoin="miter"/>
<polygon points="271.50,607.50 266.50,597.50 276.50,597.50" fill="#bcbd22" stroke="#333333" stroke-width="1" stroke-linejoin="miter"/>
<polygon points="355.50,613.50 350.50,603.50 360.50,603.50" fill="#bcbd22" stroke="#333333" stroke-width="1" stroke-linejoin="miter"/>
</g>
<rect x="62.5" y="68.5" width="837.0" height="192.0" fill="none" stroke="#333333" stroke-width="1"/>
<line x1="62.5" y1="260.5" x2="62.5" y2="264.0" stroke="#333333" stroke-width="1"/>
<line x1="166.5" y1="260.5" x2="166.5" y2="264.0" stroke="#333333" stroke-width="1"/>
<line x1="271.5" y1="260.5" x2="271.5" y2="264.0" stroke="#333333" stroke-width="1"/>
<line x1="376.5" y1="260.5" x2="376.5" y2="264.0" stroke="#333333" stroke-width="1"/>
<line x1="480.5" y1="260.5" x2="480.5" y2="264.0" stroke="#333333" stroke-width="1"/>
<line x1="585.5" y1="260.5" x2="585.5" y2="264.0" stroke="#333333" stroke-width="1"/>
<line x1="689.5" y1="260.5" x2="689.5" y2="264.0" stroke="#333333" stroke-width="1"/>
<line x1="794.5" y1="260.5" x2="794.5" y2="264.0" stroke="#333333" stroke-width="1"/>
<line x1="899.5" y1="260.5" x2="899.5" y2="264.0" stroke="#333333" stroke-width="1"/>
<rect x="62.5" y="299.5" width="837.0" height="192.0" fill="none" stroke="#333333" stroke-width="1"/>
<line x1="62.5" y1="491.5" x2="62.5" y2="495.0" stroke="#333333" stroke-width="1"/>
<line x1="166.5" y1="491.5" x2="166.5" y2="495.0" stroke="#333333" stroke-width="1"/>
<line x1="271.5" y1="491.5" x2="271.5" y2="495.0" stroke="#333333" stroke-width="1"/>
<line x1="376.5" y1="491.5" x2="376.5" y2="495.0" stroke="#333333" stroke-width="1"/>
<line x1="480.5" y1="491.5" x2="480.5" y2="495.0" stroke="#333333" stroke-width="1"/>
<line x1="585.5" y1="491.5" x2="585.5" y2="495.0" stroke="#333333" stroke-width="1"/>
<line x1="689.5" y1="491.5" x2="689.5" y2="495.0" stroke="#333333" stroke-width="1"/>
<line x1="794.5" y1="491.5" x2="794.5" y2="495.0" stroke="#333333" stroke-width="1"/>
<line x1="899.5" y1="491.5" x2="899.5" y2="495.0" stroke="#333333" stroke-width="1"/>
<rect x="62.5" y="529.5" width="837.0" height="192.0" fill="none" stroke="#333333" stroke-width="1"/>
<line x1="62.5" y1="721.5" x2="62.5" y2="725.0" stroke="#333333" stroke-width="1"/>
<line x1="166.5" y1="721.5" x2="166.5" y2="725.0" stroke="#333333" stroke-width="1"/>
<line x1="271.5" y1="721.5" x2="271.5" y2="725.0" stroke="#333333" stroke-width="1"/>
<line x1="376.5" y1="721.5" x2="376.5" y2="725.0" stroke="#333333" stroke-width="1"/>
<line x1="480.5" y1="721.5" x2="480.5" y2="725.0" stroke="#333333" stroke-width="1"/>
<line x1="585.5" y1="721.5" x2="585.5" y2="725.0" stroke="#333333" stroke-width="1"/>
<line x1="689.5" y1="721.5" x2="689.5" y2="725.0" stroke="#333333" stroke-width="1"/>
<line x1="794.5" y1="721.5" x2="794.5" y2="725.0" stroke="#333333" stroke-width="1"/>
<line x1="899.5" y1="721.5" x2="899.5" y2="725.0" stroke="#333333" stroke-width="1"/>
<line x1="59.0" y1="252.5" x2="62.5" y2="252.5" stroke="#333333" stroke-width="1"/>
<text x="48.08" y="256.60" font-size="12.3" text-anchor="start" textLength="7.44" lengthAdjust="spacingAndGlyphs" >0</text>
<line x1="59.0" y1="223.5" x2="62.5" y2="223.5" stroke="#333333" stroke-width="1"/>
<text x="47.73" y="228.12" font-size="12.3" text-anchor="start" textLength="7.84" lengthAdjust="spacingAndGlyphs" >5</text>
<line x1="59.0" y1="193.5" x2="62.5" y2="193.5" stroke="#333333" stroke-width="1"/>
<text x="40.05" y="197.67" font-size="12.3" text-anchor="start" textLength="14.07" lengthAdjust="spacingAndGlyphs" >10</text>
<line x1="59.0" y1="164.5" x2="62.5" y2="164.5" stroke="#333333" stroke-width="1"/>
<text x="40.11" y="168.68" font-size="12.3" text-anchor="start" textLength="13.70" lengthAdjust="spacingAndGlyphs" >15</text>
<line x1="59.0" y1="134.5" x2="62.5" y2="134.5" stroke="#333333" stroke-width="1"/>
<text x="40.19" y="138.79" font-size="12.3" text-anchor="start" textLength="13.94" lengthAdjust="spacingAndGlyphs" >20</text>
<line x1="59.0" y1="105.5" x2="62.5" y2="105.5" stroke="#333333" stroke-width="1"/>
<text x="40.12" y="109.70" font-size="12.3" text-anchor="start" textLength="13.63" lengthAdjust="spacingAndGlyphs" >25</text>
<line x1="59.0" y1="75.5" x2="62.5" y2="75.5" stroke="#333333" stroke-width="1"/>
<text x="40.08" y="80.82" font-size="12.3" text-anchor="start" textLength="14.03" lengthAdjust="spacingAndGlyphs" >30</text>
<line x1="59.0" y1="482.5" x2="62.5" y2="482.5" stroke="#333333" stroke-width="1"/>
<text x="36.86" y="487.06" font-size="12.3" text-anchor="start" textLength="17.99" lengthAdjust="spacingAndGlyphs" >0.0</text>
<line x1="59.0" y1="452.5" x2="62.5" y2="452.5" stroke="#333333" stroke-width="1"/>
<text x="36.78" y="457.02" font-size="12.3" text-anchor="start" textLength="18.06" lengthAdjust="spacingAndGlyphs" >2.5</text>
<line x1="59.0" y1="422.5" x2="62.5" y2="422.5" stroke="#333333" stroke-width="1"/>
<text x="36.80" y="427.02" font-size="12.3" text-anchor="start" textLength="17.81" lengthAdjust="spacingAndGlyphs" >5.0</text>
<line x1="59.0" y1="393.5" x2="62.5" y2="393.5" stroke="#333333" stroke-width="1"/>
<text x="36.43" y="397.98" font-size="12.3" text-anchor="start" textLength="18.54" lengthAdjust="spacingAndGlyphs" >7.5</text>
<line x1="59.0" y1="363.5" x2="62.5" y2="363.5" stroke="#333333" stroke-width="1"/>
<text x="29.06" y="367.88" font-size="12.3" text-anchor="start" textLength="25.81" lengthAdjust="spacingAndGlyphs" >10.0</text>
<line x1="59.0" y1="333.5" x2="62.5" y2="333.5" stroke="#333333" stroke-width="1"/>
<text x="28.90" y="338.02" font-size="12.3" text-anchor="start" textLength="25.78" lengthAdjust="spacingAndGlyphs" >12.5</text>
<line x1="59.0" y1="303.5" x2="62.5" y2="303.5" stroke="#333333" stroke-width="1"/>
<text x="28.91" y="308.02" font-size="12.3" text-anchor="start" textLength="25.96" lengthAdjust="spacingAndGlyphs" >15.0</text>
<line x1="59.0" y1="712.5" x2="62.5" y2="712.5" stroke="#333333" stroke-width="1"/>
<text x="48.05" y="717.00" font-size="12.3" text-anchor="start" textLength="7.51" lengthAdjust="spacingAndGlyphs" >0</text>
<line x1="59.0" y1="660.5" x2="62.5" y2="660.5" stroke="#333333" stroke-width="1"/>
<text x="47.81" y="664.92" font-size="12.3" text-anchor="start" textLength="7.50" lengthAdjust="spacingAndGlyphs" >5</text>
<line x1="59.0" y1="607.5" x2="62.5" y2="607.5" stroke="#333333" stroke-width="1"/>
<text x="40.11" y="611.83" font-size="12.3" text-anchor="start" textLength="14.00" lengthAdjust="spacingAndGlyphs" >10</text>
<line x1="59.0" y1="555.5" x2="62.5" y2="555.5" stroke="#333333" stroke-width="1"/>
<text x="40.00" y="559.50" font-size="12.3" text-anchor="start" textLength="13.70" lengthAdjust="spacingAndGlyphs" >15</text>
<text x="53.04" y="737.51" font-size="12.3" text-anchor="start" textLength="17.61" lengthAdjust="spacingAndGlyphs" >0.0</text>
<text x="158.06" y="738.20" font-size="12.3" text-anchor="start" textLength="17.94" lengthAdjust="spacingAndGlyphs" >2.5</text>
<text x="262.07" y="738.23" font-size="12.3" text-anchor="start" textLength="17.70" lengthAdjust="spacingAndGlyphs" >5.0</text>
<text x="366.10" y="738.20" font-size="12.3" text-anchor="start" textLength="18.83" lengthAdjust="spacingAndGlyphs" >7.5</text>
<text x="467.07" y="738.28" font-size="12.3" text-anchor="start" textLength="25.43" lengthAdjust="spacingAndGlyphs" >10.0</text>
<text x="572.07" y="738.20" font-size="12.3" text-anchor="start" textLength="25.48" lengthAdjust="spacingAndGlyphs" >12.5</text>
<text x="676.92" y="738.20" font-size="12.3" text-anchor="start" textLength="25.64" lengthAdjust="spacingAndGlyphs" >15.0</text>
<text x="780.89" y="738.20" font-size="12.3" text-anchor="start" textLength="25.90" lengthAdjust="spacingAndGlyphs" >17.5</text>
<text x="886.22" y="738.07" font-size="12.3" text-anchor="start" textLength="25.34" lengthAdjust="spacingAndGlyphs" >20.0</text>
<text x="449.13" y="58.80" font-size="18.3" text-anchor="start" textLength="61.72" lengthAdjust="spacingAndGlyphs" >15 MW</text>
<text x="445.86" y="288.80" font-size="18.3" text-anchor="start" textLength="67.64" lengthAdjust="spacingAndGlyphs" >1.5 MW</text>
<text x="461.08" y="519.49" font-size="18.3" text-anchor="start" textLength="37.99" lengthAdjust="spacingAndGlyphs" >Exp.</text>
<text x="871.56" y="88.61" font-size="18.3" text-anchor="start" textLength="22.79" lengthAdjust="spacingAndGlyphs" >(a)</text>
<text x="871.91" y="319.46" font-size="18.3" text-anchor="start" textLength="22.35" lengthAdjust="spacingAndGlyphs" >(b)</text>
<text x="871.77" y="549.40" font-size="18.3" text-anchor="start" textLength="21.30" lengthAdjust="spacingAndGlyphs" >(c)</text>
<text x="467.25" y="759.60" font-size="15.6" text-anchor="start" textLength="27.68" lengthAdjust="spacingAndGlyphs" ><tspan font-style="italic">x/D</tspan></text>
<text transform="translate(30.5 165.3) rotate(-90)" font-size="16" text-anchor="middle" textLength="44" lengthAdjust="spacing"><tspan font-style="italic">ε</tspan>(<tspan font-style="italic">x</tspan>)%</text>
<text transform="translate(18.75 395.2) rotate(-90)" font-size="16" text-anchor="middle" textLength="44" lengthAdjust="spacing"><tspan font-style="italic">ε</tspan>(<tspan font-style="italic">x</tspan>)%</text>
<text transform="translate(30.5 626.3) rotate(-90)" font-size="16" text-anchor="middle" textLength="44" lengthAdjust="spacing"><tspan font-style="italic">ε</tspan>(<tspan font-style="italic">x</tspan>)%</text></svg>
</body></html>
